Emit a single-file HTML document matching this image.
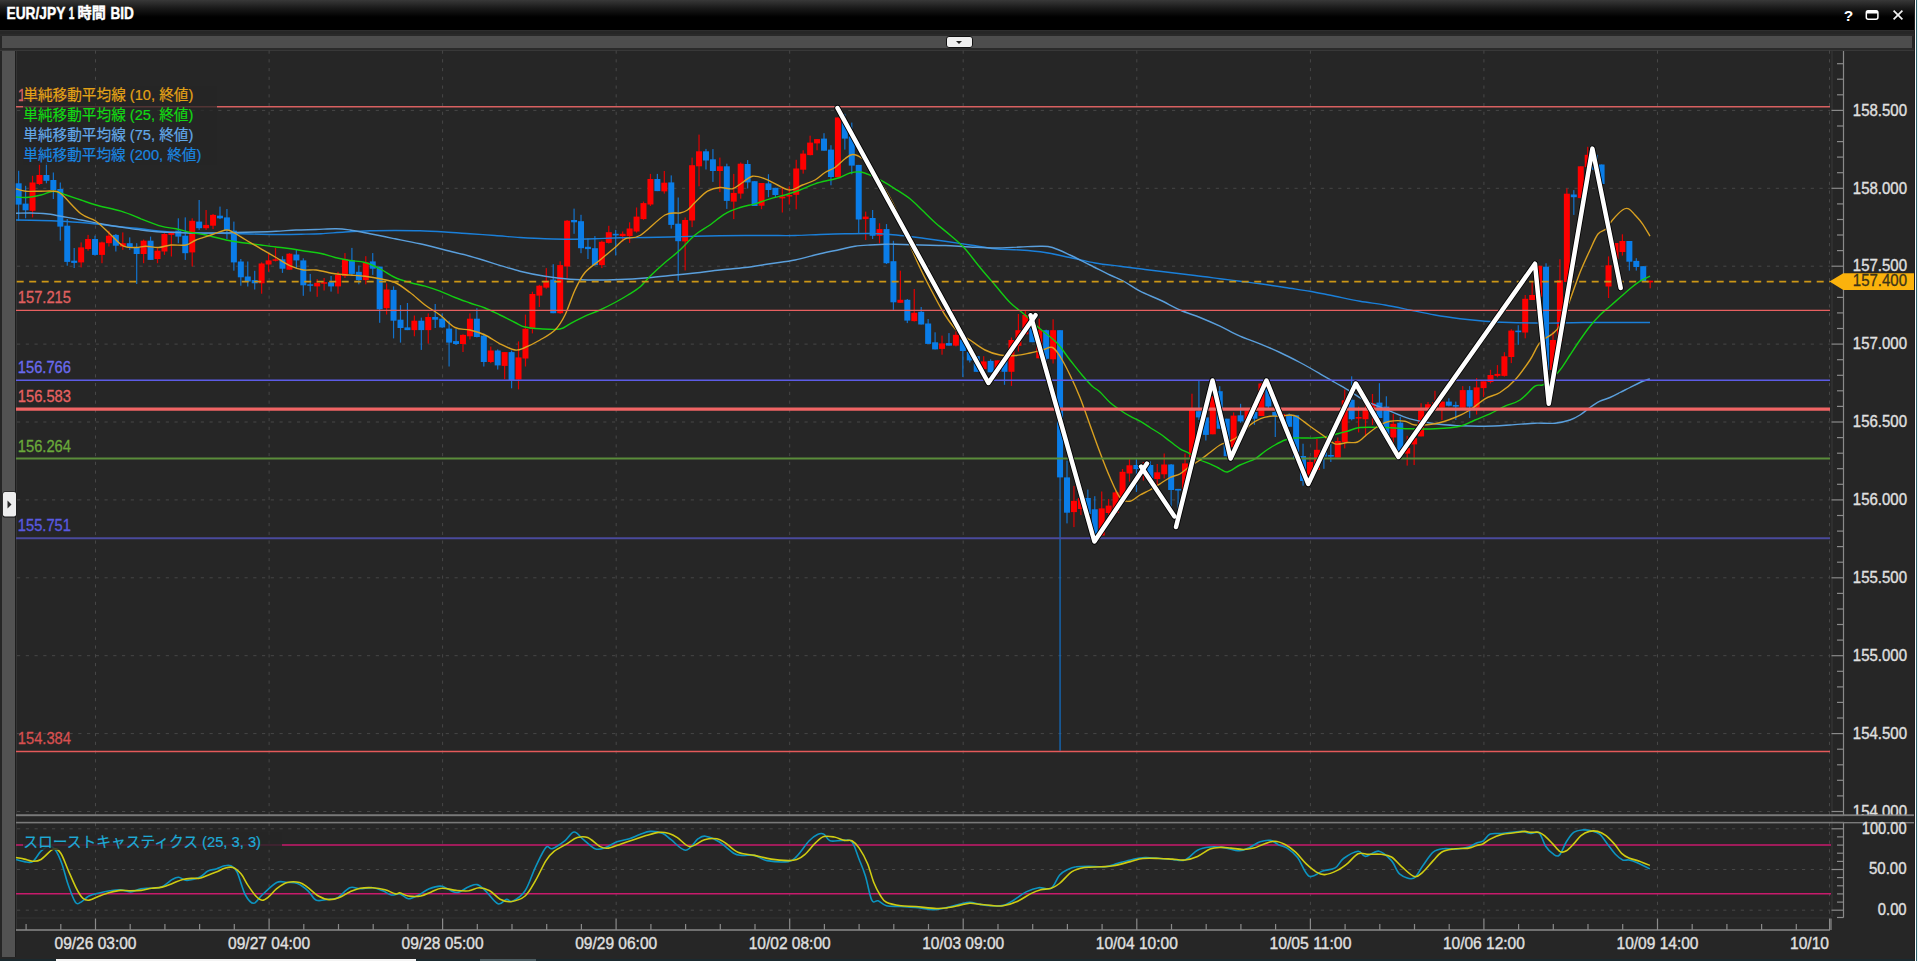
<!DOCTYPE html>
<html><head><meta charset="utf-8"><title>EUR/JPY 1時間 BID</title>
<style>
html,body{margin:0;padding:0;background:#262626;}
body{width:1918px;height:961px;overflow:hidden;position:relative;font-family:"Liberation Sans", "Noto Sans CJK JP", sans-serif;}
#title{position:absolute;left:0;top:0;width:1914px;height:30px;background:linear-gradient(#383838 0px,#1a1a1a 8px,#000 17px,#000 30px);}
#title .t{position:absolute;left:6px;top:4px;color:#fff;font-weight:bold;font-size:15px;line-height:18px;letter-spacing:-0.45px;}
#title .ic{position:absolute;top:8px;color:#fff;font-weight:bold;}
svg{position:absolute;left:0;top:0;}
svg text{font-family:"Liberation Sans", "Noto Sans CJK JP", sans-serif;}
#dd{position:absolute;left:946px;top:36px;width:25px;height:10px;background:#eee;border:1px solid #111;border-radius:3px;}
#dd:after{content:"";position:absolute;left:8.6px;top:4px;border-left:3.7px solid transparent;border-right:3.7px solid transparent;border-top:3.4px solid #222;}
</style></head>
<body>
<svg width="1918" height="961" viewBox="0 0 1918 961">
<rect x="0" y="30" width="1918" height="931" fill="#262626"/>
<rect x="0" y="30" width="1918" height="1" fill="#2e2e2e"/>
<rect x="0" y="34" width="1918" height="2" fill="#2a2a2a"/>
<rect x="2" y="36" width="1910" height="12" fill="#4d4d4d"/>
<rect x="0" y="48" width="1918" height="2" fill="#2a2a2a"/>
<rect x="0" y="50" width="1914" height="1" fill="#383838"/>
<rect x="2" y="51" width="13" height="906" fill="#525252"/>
<rect x="15" y="51" width="1" height="906" fill="#1e1e1e"/>
<rect x="16" y="51" width="1" height="880" fill="#333"/>
<rect x="2.5" y="491.5" width="14" height="26" rx="2" fill="#111"/>
<rect x="3" y="492" width="13" height="24.5" rx="2" fill="#eeeeee"/>
<path d="M7.5,500.5 L11.5,504.5 L7.5,508.5 Z" fill="#2a2a2a"/>
<g stroke="#474747" stroke-width="1" stroke-dasharray="3.2,5.55"><line x1="17" y1="110.4" x2="1830" y2="110.4"/><line x1="17" y1="188.3" x2="1830" y2="188.3"/><line x1="17" y1="266.2" x2="1830" y2="266.2"/><line x1="17" y1="344.1" x2="1830" y2="344.1"/><line x1="17" y1="422.0" x2="1830" y2="422.0"/><line x1="17" y1="499.9" x2="1830" y2="499.9"/><line x1="17" y1="577.8" x2="1830" y2="577.8"/><line x1="17" y1="655.7" x2="1830" y2="655.7"/><line x1="17" y1="733.6" x2="1830" y2="733.6"/><line x1="17" y1="811.5" x2="1830" y2="811.5"/><line x1="17" y1="828.8" x2="1830" y2="828.8"/><line x1="17" y1="869.5" x2="1830" y2="869.5"/><line x1="17" y1="910.2" x2="1830" y2="910.2"/></g>
<g stroke="#474747" stroke-width="1" stroke-dasharray="3.2,5.55"><line x1="95.5" y1="50.5" x2="95.5" y2="815"/><line x1="95.5" y1="823" x2="95.5" y2="918"/><line x1="269.1" y1="50.5" x2="269.1" y2="815"/><line x1="269.1" y1="823" x2="269.1" y2="918"/><line x1="442.6" y1="50.5" x2="442.6" y2="815"/><line x1="442.6" y1="823" x2="442.6" y2="918"/><line x1="616.2" y1="50.5" x2="616.2" y2="815"/><line x1="616.2" y1="823" x2="616.2" y2="918"/><line x1="789.7" y1="50.5" x2="789.7" y2="815"/><line x1="789.7" y1="823" x2="789.7" y2="918"/><line x1="963.2" y1="50.5" x2="963.2" y2="815"/><line x1="963.2" y1="823" x2="963.2" y2="918"/><line x1="1136.8" y1="50.5" x2="1136.8" y2="815"/><line x1="1136.8" y1="823" x2="1136.8" y2="918"/><line x1="1310.4" y1="50.5" x2="1310.4" y2="815"/><line x1="1310.4" y1="823" x2="1310.4" y2="918"/><line x1="1483.9" y1="50.5" x2="1483.9" y2="815"/><line x1="1483.9" y1="823" x2="1483.9" y2="918"/><line x1="1657.5" y1="50.5" x2="1657.5" y2="815"/><line x1="1657.5" y1="823" x2="1657.5" y2="918"/><line x1="1829.5" y1="50.5" x2="1829.5" y2="815"/><line x1="1829.5" y1="823" x2="1829.5" y2="918"/></g>
<rect x="1831.5" y="51" width="1" height="866" fill="#383838"/>
<rect x="18.05" y="170.8" width="1.2" height="50.0" fill="#1272cc"/><rect x="15.65" y="183.3" width="6.0" height="21.3" fill="#0a7de8"/><rect x="24.99" y="185.8" width="1.2" height="32.5" fill="#1272cc"/><rect x="22.59" y="203.6" width="6.0" height="6.7" fill="#0a7de8"/><rect x="31.94" y="175.8" width="1.2" height="41.6" fill="#e00000"/><rect x="29.54" y="182.5" width="6.0" height="28.3" fill="#ff0000"/><rect x="38.88" y="163.3" width="1.2" height="21.7" fill="#e00000"/><rect x="36.48" y="175.0" width="6.0" height="9.0" fill="#ff0000"/><rect x="45.82" y="162.5" width="1.2" height="20.8" fill="#1272cc"/><rect x="43.42" y="175.0" width="6.0" height="5.8" fill="#0a7de8"/><rect x="52.76" y="172.5" width="1.2" height="26.5" fill="#1272cc"/><rect x="50.36" y="180.0" width="6.0" height="10.0" fill="#0a7de8"/><rect x="59.71" y="182.5" width="1.2" height="58.2" fill="#1272cc"/><rect x="57.31" y="189.0" width="6.0" height="37.6" fill="#0a7de8"/><rect x="66.65" y="219.0" width="1.2" height="46.7" fill="#1272cc"/><rect x="64.25" y="225.7" width="6.0" height="36.2" fill="#0a7de8"/><rect x="73.59" y="248.0" width="1.2" height="20.0" fill="#1272cc"/><rect x="71.19" y="260.7" width="6.0" height="2.2" fill="#0a7de8"/><rect x="80.53" y="242.4" width="1.2" height="25.0" fill="#e00000"/><rect x="78.13" y="247.4" width="6.0" height="15.0" fill="#ff0000"/><rect x="87.48" y="234.9" width="1.2" height="15.8" fill="#e00000"/><rect x="85.08" y="239.0" width="6.0" height="10.0" fill="#ff0000"/><rect x="94.42" y="235.7" width="1.2" height="20.0" fill="#1272cc"/><rect x="92.02" y="239.0" width="6.0" height="15.9" fill="#0a7de8"/><rect x="101.36" y="241.6" width="1.2" height="21.6" fill="#e00000"/><rect x="98.96" y="242.4" width="6.0" height="12.5" fill="#ff0000"/><rect x="108.31" y="230.7" width="1.2" height="15.8" fill="#e00000"/><rect x="105.91" y="235.7" width="6.0" height="7.5" fill="#ff0000"/><rect x="115.25" y="234.0" width="1.2" height="17.5" fill="#1272cc"/><rect x="112.85" y="234.9" width="6.0" height="10.8" fill="#0a7de8"/><rect x="122.19" y="232.4" width="1.2" height="17.5" fill="#e00000"/><rect x="119.79" y="243.2" width="6.0" height="3.3" fill="#ff0000"/><rect x="129.13" y="237.4" width="1.2" height="12.5" fill="#1272cc"/><rect x="126.73" y="243.2" width="6.0" height="4.2" fill="#0a7de8"/><rect x="136.08" y="243.2" width="1.2" height="40.8" fill="#1272cc"/><rect x="133.68" y="247.4" width="6.0" height="6.6" fill="#0a7de8"/><rect x="143.02" y="239.6" width="1.2" height="23.6" fill="#e00000"/><rect x="140.62" y="240.7" width="6.0" height="13.3" fill="#ff0000"/><rect x="149.96" y="236.6" width="1.2" height="23.3" fill="#1272cc"/><rect x="147.56" y="240.7" width="6.0" height="19.2" fill="#0a7de8"/><rect x="156.90" y="248.2" width="1.2" height="15.0" fill="#e00000"/><rect x="154.50" y="250.7" width="6.0" height="8.3" fill="#ff0000"/><rect x="163.85" y="233.2" width="1.2" height="21.7" fill="#e00000"/><rect x="161.45" y="234.0" width="6.0" height="17.5" fill="#ff0000"/><rect x="170.79" y="231.6" width="1.2" height="24.9" fill="#e00000"/><rect x="168.39" y="231.6" width="6.0" height="3.3" fill="#ff0000"/><rect x="177.73" y="218.3" width="1.2" height="24.9" fill="#1272cc"/><rect x="175.33" y="230.7" width="6.0" height="5.9" fill="#0a7de8"/><rect x="184.67" y="217.4" width="1.2" height="42.5" fill="#1272cc"/><rect x="182.27" y="235.7" width="6.0" height="17.5" fill="#0a7de8"/><rect x="191.62" y="218.3" width="1.2" height="48.2" fill="#e00000"/><rect x="189.22" y="220.8" width="6.0" height="31.6" fill="#ff0000"/><rect x="198.56" y="200.0" width="1.2" height="29.9" fill="#1272cc"/><rect x="196.16" y="221.6" width="6.0" height="6.6" fill="#0a7de8"/><rect x="205.50" y="210.0" width="1.2" height="19.9" fill="#e00000"/><rect x="203.10" y="224.9" width="6.0" height="3.3" fill="#ff0000"/><rect x="212.45" y="214.0" width="1.2" height="15.1" fill="#e00000"/><rect x="210.05" y="214.9" width="6.0" height="10.8" fill="#ff0000"/><rect x="219.39" y="206.6" width="1.2" height="12.5" fill="#1272cc"/><rect x="216.99" y="215.7" width="6.0" height="2.6" fill="#0a7de8"/><rect x="226.33" y="209.0" width="1.2" height="30.0" fill="#1272cc"/><rect x="223.93" y="217.4" width="6.0" height="12.5" fill="#0a7de8"/><rect x="233.27" y="221.6" width="1.2" height="49.1" fill="#1272cc"/><rect x="230.87" y="230.7" width="6.0" height="31.7" fill="#0a7de8"/><rect x="240.22" y="259.0" width="1.2" height="26.7" fill="#1272cc"/><rect x="237.82" y="261.5" width="6.0" height="15.8" fill="#0a7de8"/><rect x="247.16" y="261.5" width="1.2" height="25.0" fill="#1272cc"/><rect x="244.76" y="276.5" width="6.0" height="5.0" fill="#0a7de8"/><rect x="254.10" y="270.8" width="1.2" height="18.7" fill="#1272cc"/><rect x="251.70" y="280.1" width="6.0" height="3.2" fill="#0a7de8"/><rect x="261.04" y="262.4" width="1.2" height="31.3" fill="#e00000"/><rect x="258.64" y="263.5" width="6.0" height="19.8" fill="#ff0000"/><rect x="267.99" y="253.1" width="1.2" height="18.7" fill="#e00000"/><rect x="265.59" y="260.4" width="6.0" height="4.1" fill="#ff0000"/><rect x="274.93" y="247.9" width="1.2" height="13.5" fill="#e00000"/><rect x="272.53" y="259.3" width="6.0" height="1.5" fill="#ff0000"/><rect x="281.87" y="256.2" width="1.2" height="16.7" fill="#1272cc"/><rect x="279.47" y="259.3" width="6.0" height="9.4" fill="#0a7de8"/><rect x="288.82" y="253.1" width="1.2" height="16.6" fill="#e00000"/><rect x="286.42" y="253.7" width="6.0" height="16.0" fill="#ff0000"/><rect x="295.76" y="250.0" width="1.2" height="18.7" fill="#1272cc"/><rect x="293.36" y="254.5" width="6.0" height="5.9" fill="#0a7de8"/><rect x="302.70" y="258.3" width="1.2" height="37.5" fill="#1272cc"/><rect x="300.30" y="260.4" width="6.0" height="24.9" fill="#0a7de8"/><rect x="309.64" y="273.9" width="1.2" height="17.7" fill="#1272cc"/><rect x="307.24" y="284.3" width="6.0" height="1.5" fill="#0a7de8"/><rect x="316.59" y="279.1" width="1.2" height="17.7" fill="#e00000"/><rect x="314.19" y="282.8" width="6.0" height="3.6" fill="#ff0000"/><rect x="323.53" y="278.0" width="1.2" height="12.5" fill="#e00000"/><rect x="321.13" y="282.2" width="6.0" height="1.5" fill="#ff0000"/><rect x="330.47" y="276.0" width="1.2" height="15.6" fill="#1272cc"/><rect x="328.07" y="282.2" width="6.0" height="4.2" fill="#0a7de8"/><rect x="337.41" y="271.8" width="1.2" height="21.9" fill="#e00000"/><rect x="335.01" y="274.9" width="6.0" height="11.5" fill="#ff0000"/><rect x="344.36" y="253.1" width="1.2" height="24.9" fill="#e00000"/><rect x="341.96" y="259.3" width="6.0" height="16.7" fill="#ff0000"/><rect x="351.30" y="247.9" width="1.2" height="28.1" fill="#1272cc"/><rect x="348.90" y="260.4" width="6.0" height="13.5" fill="#0a7de8"/><rect x="358.24" y="265.6" width="1.2" height="18.7" fill="#1272cc"/><rect x="355.84" y="271.8" width="6.0" height="8.3" fill="#0a7de8"/><rect x="365.18" y="256.2" width="1.2" height="28.1" fill="#e00000"/><rect x="362.78" y="262.4" width="6.0" height="17.7" fill="#ff0000"/><rect x="372.13" y="253.1" width="1.2" height="21.8" fill="#1272cc"/><rect x="369.73" y="261.4" width="6.0" height="7.3" fill="#0a7de8"/><rect x="379.07" y="266.6" width="1.2" height="56.2" fill="#1272cc"/><rect x="376.67" y="266.6" width="6.0" height="42.7" fill="#0a7de8"/><rect x="386.01" y="283.3" width="1.2" height="31.2" fill="#e00000"/><rect x="383.61" y="289.5" width="6.0" height="18.7" fill="#ff0000"/><rect x="392.96" y="286.4" width="1.2" height="52.0" fill="#1272cc"/><rect x="390.56" y="289.9" width="6.0" height="30.8" fill="#0a7de8"/><rect x="399.90" y="305.1" width="1.2" height="37.5" fill="#1272cc"/><rect x="397.50" y="319.7" width="6.0" height="8.3" fill="#0a7de8"/><rect x="406.84" y="303.0" width="1.2" height="27.1" fill="#1272cc"/><rect x="404.44" y="327.4" width="6.0" height="2.7" fill="#0a7de8"/><rect x="413.78" y="315.5" width="1.2" height="20.8" fill="#e00000"/><rect x="411.38" y="320.7" width="6.0" height="9.4" fill="#ff0000"/><rect x="420.73" y="317.6" width="1.2" height="32.3" fill="#1272cc"/><rect x="418.33" y="320.7" width="6.0" height="9.4" fill="#0a7de8"/><rect x="427.67" y="313.4" width="1.2" height="30.2" fill="#e00000"/><rect x="425.27" y="317.0" width="6.0" height="13.1" fill="#ff0000"/><rect x="434.61" y="304.0" width="1.2" height="24.0" fill="#1272cc"/><rect x="432.21" y="317.0" width="6.0" height="2.7" fill="#0a7de8"/><rect x="441.55" y="313.5" width="1.2" height="14.5" fill="#1272cc"/><rect x="439.15" y="318.7" width="6.0" height="8.7" fill="#0a7de8"/><rect x="448.50" y="320.7" width="1.2" height="45.8" fill="#1272cc"/><rect x="446.10" y="328.6" width="6.0" height="14.0" fill="#0a7de8"/><rect x="455.44" y="329.0" width="1.2" height="16.0" fill="#1272cc"/><rect x="453.04" y="341.1" width="6.0" height="2.9" fill="#0a7de8"/><rect x="462.38" y="334.3" width="1.2" height="17.7" fill="#e00000"/><rect x="459.98" y="334.9" width="6.0" height="9.1" fill="#ff0000"/><rect x="469.33" y="313.4" width="1.2" height="26.1" fill="#e00000"/><rect x="466.93" y="318.7" width="6.0" height="17.6" fill="#ff0000"/><rect x="476.27" y="308.2" width="1.2" height="29.2" fill="#1272cc"/><rect x="473.87" y="318.7" width="6.0" height="18.3" fill="#0a7de8"/><rect x="483.21" y="333.4" width="1.2" height="33.1" fill="#1272cc"/><rect x="480.81" y="335.6" width="6.0" height="26.4" fill="#0a7de8"/><rect x="490.15" y="346.6" width="1.2" height="16.5" fill="#e00000"/><rect x="487.75" y="350.5" width="6.0" height="11.5" fill="#ff0000"/><rect x="497.10" y="349.4" width="1.2" height="20.1" fill="#1272cc"/><rect x="494.70" y="350.5" width="6.0" height="14.9" fill="#0a7de8"/><rect x="504.04" y="352.1" width="1.2" height="27.0" fill="#e00000"/><rect x="501.64" y="352.1" width="6.0" height="13.8" fill="#ff0000"/><rect x="510.98" y="350.5" width="1.2" height="37.8" fill="#1272cc"/><rect x="508.58" y="352.1" width="6.0" height="28.2" fill="#0a7de8"/><rect x="517.92" y="341.4" width="1.2" height="48.0" fill="#e00000"/><rect x="515.52" y="357.4" width="6.0" height="22.2" fill="#ff0000"/><rect x="524.87" y="314.6" width="1.2" height="51.9" fill="#e00000"/><rect x="522.47" y="328.8" width="6.0" height="29.7" fill="#ff0000"/><rect x="531.81" y="291.7" width="1.2" height="41.7" fill="#e00000"/><rect x="529.41" y="294.0" width="6.0" height="34.8" fill="#ff0000"/><rect x="538.75" y="284.8" width="1.2" height="22.2" fill="#e00000"/><rect x="536.35" y="285.7" width="6.0" height="9.9" fill="#ff0000"/><rect x="545.70" y="268.1" width="1.2" height="20.6" fill="#e00000"/><rect x="543.30" y="280.7" width="6.0" height="6.9" fill="#ff0000"/><rect x="552.64" y="264.2" width="1.2" height="49.0" fill="#1272cc"/><rect x="550.24" y="279.6" width="6.0" height="33.6" fill="#0a7de8"/><rect x="559.58" y="261.3" width="1.2" height="52.6" fill="#e00000"/><rect x="557.18" y="265.1" width="6.0" height="48.1" fill="#ff0000"/><rect x="566.52" y="220.0" width="1.2" height="58.4" fill="#e00000"/><rect x="564.12" y="220.7" width="6.0" height="45.8" fill="#ff0000"/><rect x="573.47" y="208.6" width="1.2" height="25.2" fill="#1272cc"/><rect x="571.07" y="220.0" width="6.0" height="2.3" fill="#0a7de8"/><rect x="580.41" y="214.8" width="1.2" height="38.4" fill="#1272cc"/><rect x="578.01" y="221.2" width="6.0" height="27.0" fill="#0a7de8"/><rect x="587.35" y="238.4" width="1.2" height="20.6" fill="#1272cc"/><rect x="584.95" y="246.8" width="6.0" height="2.3" fill="#0a7de8"/><rect x="594.29" y="236.1" width="1.2" height="29.7" fill="#1272cc"/><rect x="591.89" y="248.2" width="6.0" height="16.9" fill="#0a7de8"/><rect x="601.24" y="240.7" width="1.2" height="27.4" fill="#e00000"/><rect x="598.84" y="241.8" width="6.0" height="23.3" fill="#ff0000"/><rect x="608.18" y="225.8" width="1.2" height="17.8" fill="#e00000"/><rect x="605.78" y="232.2" width="6.0" height="10.7" fill="#ff0000"/><rect x="615.12" y="229.9" width="1.2" height="25.6" fill="#1272cc"/><rect x="612.72" y="233.8" width="6.0" height="1.6" fill="#0a7de8"/><rect x="622.06" y="231.5" width="1.2" height="10.3" fill="#e00000"/><rect x="619.66" y="233.8" width="6.0" height="2.3" fill="#ff0000"/><rect x="629.01" y="222.3" width="1.2" height="20.6" fill="#e00000"/><rect x="626.61" y="228.5" width="6.0" height="7.6" fill="#ff0000"/><rect x="635.95" y="207.5" width="1.2" height="25.1" fill="#e00000"/><rect x="633.55" y="216.6" width="6.0" height="14.9" fill="#ff0000"/><rect x="642.89" y="201.6" width="1.2" height="18.2" fill="#e00000"/><rect x="640.49" y="203.1" width="6.0" height="16.0" fill="#ff0000"/><rect x="649.84" y="173.9" width="1.2" height="32.1" fill="#e00000"/><rect x="647.44" y="179.0" width="6.0" height="25.5" fill="#ff0000"/><rect x="656.78" y="173.9" width="1.2" height="17.2" fill="#1272cc"/><rect x="654.38" y="179.0" width="6.0" height="12.1" fill="#0a7de8"/><rect x="663.72" y="171.0" width="1.2" height="22.6" fill="#e00000"/><rect x="661.32" y="182.7" width="6.0" height="8.7" fill="#ff0000"/><rect x="670.66" y="175.4" width="1.2" height="53.2" fill="#1272cc"/><rect x="668.26" y="182.4" width="6.0" height="42.5" fill="#0a7de8"/><rect x="677.61" y="197.5" width="1.2" height="83.6" fill="#1272cc"/><rect x="675.21" y="223.7" width="6.0" height="17.5" fill="#0a7de8"/><rect x="684.55" y="217.5" width="1.2" height="53.0" fill="#e00000"/><rect x="682.15" y="220.0" width="6.0" height="21.4" fill="#ff0000"/><rect x="691.49" y="157.6" width="1.2" height="69.5" fill="#e00000"/><rect x="689.09" y="165.2" width="6.0" height="55.3" fill="#ff0000"/><rect x="698.43" y="134.6" width="1.2" height="51.7" fill="#e00000"/><rect x="696.03" y="151.3" width="6.0" height="15.0" fill="#ff0000"/><rect x="705.38" y="148.9" width="1.2" height="20.6" fill="#1272cc"/><rect x="702.98" y="151.3" width="6.0" height="9.2" fill="#0a7de8"/><rect x="712.32" y="149.1" width="1.2" height="32.8" fill="#1272cc"/><rect x="709.92" y="159.3" width="6.0" height="11.7" fill="#0a7de8"/><rect x="719.26" y="157.6" width="1.2" height="34.5" fill="#e00000"/><rect x="716.86" y="166.3" width="6.0" height="4.7" fill="#ff0000"/><rect x="726.21" y="163.7" width="1.2" height="45.2" fill="#1272cc"/><rect x="723.81" y="166.3" width="6.0" height="34.6" fill="#0a7de8"/><rect x="733.15" y="173.9" width="1.2" height="45.2" fill="#e00000"/><rect x="730.75" y="192.9" width="6.0" height="8.7" fill="#ff0000"/><rect x="740.09" y="162.5" width="1.2" height="36.2" fill="#e00000"/><rect x="737.69" y="163.7" width="6.0" height="29.9" fill="#ff0000"/><rect x="747.03" y="160.1" width="1.2" height="28.4" fill="#1272cc"/><rect x="744.63" y="164.0" width="6.0" height="18.4" fill="#0a7de8"/><rect x="753.98" y="181.2" width="1.2" height="24.8" fill="#1272cc"/><rect x="751.58" y="181.2" width="6.0" height="24.8" fill="#0a7de8"/><rect x="760.92" y="183.0" width="1.2" height="26.2" fill="#e00000"/><rect x="758.52" y="183.0" width="6.0" height="22.7" fill="#ff0000"/><rect x="767.86" y="174.2" width="1.2" height="23.0" fill="#1272cc"/><rect x="765.46" y="183.4" width="6.0" height="6.6" fill="#0a7de8"/><rect x="774.80" y="187.8" width="1.2" height="9.2" fill="#1272cc"/><rect x="772.40" y="187.8" width="6.0" height="7.2" fill="#0a7de8"/><rect x="781.75" y="187.8" width="1.2" height="24.7" fill="#e00000"/><rect x="779.35" y="196.5" width="6.0" height="1.9" fill="#ff0000"/><rect x="788.69" y="186.3" width="1.2" height="18.2" fill="#e00000"/><rect x="786.29" y="195.0" width="6.0" height="1.5" fill="#ff0000"/><rect x="795.63" y="159.8" width="1.2" height="49.5" fill="#e00000"/><rect x="793.23" y="168.5" width="6.0" height="26.3" fill="#ff0000"/><rect x="802.58" y="150.3" width="1.2" height="23.3" fill="#e00000"/><rect x="800.18" y="153.6" width="6.0" height="16.1" fill="#ff0000"/><rect x="809.52" y="135.7" width="1.2" height="19.7" fill="#e00000"/><rect x="807.12" y="142.6" width="6.0" height="12.5" fill="#ff0000"/><rect x="816.46" y="139.1" width="1.2" height="11.2" fill="#e00000"/><rect x="814.06" y="139.1" width="6.0" height="4.3" fill="#ff0000"/><rect x="823.40" y="133.2" width="1.2" height="17.5" fill="#1272cc"/><rect x="821.00" y="138.6" width="6.0" height="12.1" fill="#0a7de8"/><rect x="830.35" y="145.2" width="1.2" height="40.1" fill="#1272cc"/><rect x="827.95" y="149.6" width="6.0" height="27.4" fill="#0a7de8"/><rect x="837.29" y="117.5" width="1.2" height="59.8" fill="#e00000"/><rect x="834.89" y="117.5" width="6.0" height="59.8" fill="#ff0000"/><rect x="844.23" y="113.8" width="1.2" height="35.8" fill="#1272cc"/><rect x="841.83" y="121.9" width="6.0" height="16.7" fill="#0a7de8"/><rect x="851.17" y="122.6" width="1.2" height="51.7" fill="#1272cc"/><rect x="848.77" y="136.4" width="6.0" height="29.2" fill="#0a7de8"/><rect x="858.12" y="164.9" width="1.2" height="68.5" fill="#1272cc"/><rect x="855.72" y="164.9" width="6.0" height="54.6" fill="#0a7de8"/><rect x="865.06" y="211.6" width="1.2" height="28.4" fill="#e00000"/><rect x="862.66" y="216.6" width="6.0" height="2.5" fill="#ff0000"/><rect x="872.00" y="210.0" width="1.2" height="29.0" fill="#1272cc"/><rect x="869.60" y="218.0" width="6.0" height="17.8" fill="#0a7de8"/><rect x="878.94" y="223.3" width="1.2" height="20.0" fill="#e00000"/><rect x="876.54" y="229.1" width="6.0" height="6.7" fill="#ff0000"/><rect x="885.89" y="224.1" width="1.2" height="39.9" fill="#1272cc"/><rect x="883.49" y="229.1" width="6.0" height="34.1" fill="#0a7de8"/><rect x="892.83" y="240.8" width="1.2" height="69.0" fill="#1272cc"/><rect x="890.43" y="261.2" width="6.0" height="41.1" fill="#0a7de8"/><rect x="899.77" y="270.7" width="1.2" height="32.1" fill="#e00000"/><rect x="897.37" y="299.8" width="6.0" height="3.0" fill="#ff0000"/><rect x="906.72" y="299.0" width="1.2" height="24.1" fill="#1272cc"/><rect x="904.32" y="299.8" width="6.0" height="20.8" fill="#0a7de8"/><rect x="913.66" y="289.0" width="1.2" height="32.5" fill="#e00000"/><rect x="911.26" y="312.8" width="6.0" height="8.3" fill="#ff0000"/><rect x="920.60" y="307.0" width="1.2" height="17.5" fill="#1272cc"/><rect x="918.20" y="311.8" width="6.0" height="12.7" fill="#0a7de8"/><rect x="927.54" y="319.0" width="1.2" height="24.9" fill="#1272cc"/><rect x="925.14" y="323.5" width="6.0" height="20.4" fill="#0a7de8"/><rect x="934.49" y="332.3" width="1.2" height="17.1" fill="#1272cc"/><rect x="932.09" y="342.3" width="6.0" height="7.1" fill="#0a7de8"/><rect x="941.43" y="335.6" width="1.2" height="19.1" fill="#e00000"/><rect x="939.03" y="343.4" width="6.0" height="5.5" fill="#ff0000"/><rect x="948.37" y="333.1" width="1.2" height="12.5" fill="#1272cc"/><rect x="945.97" y="343.1" width="6.0" height="2.5" fill="#0a7de8"/><rect x="955.31" y="331.4" width="1.2" height="15.0" fill="#e00000"/><rect x="952.91" y="334.8" width="6.0" height="10.8" fill="#ff0000"/><rect x="962.26" y="339.5" width="1.2" height="37.5" fill="#1272cc"/><rect x="959.86" y="339.5" width="6.0" height="11.5" fill="#0a7de8"/><rect x="969.20" y="350.0" width="1.2" height="12.5" fill="#1272cc"/><rect x="966.80" y="352.0" width="6.0" height="8.4" fill="#0a7de8"/><rect x="976.14" y="356.2" width="1.2" height="15.6" fill="#1272cc"/><rect x="973.74" y="356.2" width="6.0" height="15.6" fill="#0a7de8"/><rect x="983.09" y="356.2" width="1.2" height="13.0" fill="#e00000"/><rect x="980.69" y="361.4" width="6.0" height="7.8" fill="#ff0000"/><rect x="990.03" y="359.3" width="1.2" height="13.0" fill="#1272cc"/><rect x="987.63" y="360.9" width="6.0" height="11.4" fill="#0a7de8"/><rect x="996.97" y="360.4" width="1.2" height="15.1" fill="#e00000"/><rect x="994.57" y="360.4" width="6.0" height="11.4" fill="#ff0000"/><rect x="1003.91" y="359.3" width="1.2" height="25.5" fill="#1272cc"/><rect x="1001.51" y="360.4" width="6.0" height="11.4" fill="#0a7de8"/><rect x="1010.86" y="337.5" width="1.2" height="48.4" fill="#e00000"/><rect x="1008.46" y="340.0" width="6.0" height="31.8" fill="#ff0000"/><rect x="1017.80" y="314.0" width="1.2" height="37.5" fill="#e00000"/><rect x="1015.40" y="330.2" width="6.0" height="15.6" fill="#ff0000"/><rect x="1024.74" y="310.4" width="1.2" height="23.9" fill="#e00000"/><rect x="1022.34" y="315.0" width="6.0" height="19.3" fill="#ff0000"/><rect x="1031.68" y="325.0" width="1.2" height="17.2" fill="#1272cc"/><rect x="1029.28" y="326.0" width="6.0" height="16.2" fill="#0a7de8"/><rect x="1038.63" y="318.7" width="1.2" height="39.6" fill="#e00000"/><rect x="1036.23" y="330.2" width="6.0" height="28.1" fill="#ff0000"/><rect x="1045.57" y="329.7" width="1.2" height="32.8" fill="#1272cc"/><rect x="1043.17" y="330.2" width="6.0" height="28.6" fill="#0a7de8"/><rect x="1052.51" y="319.3" width="1.2" height="44.2" fill="#e00000"/><rect x="1050.11" y="330.2" width="6.0" height="29.1" fill="#ff0000"/><rect x="1059.46" y="330.2" width="1.2" height="420.6" fill="#1272cc"/><rect x="1057.06" y="330.2" width="6.0" height="147.2" fill="#0a7de8"/><rect x="1066.40" y="460.6" width="1.2" height="62.8" fill="#1272cc"/><rect x="1064.00" y="477.4" width="6.0" height="35.3" fill="#0a7de8"/><rect x="1073.34" y="485.9" width="1.2" height="41.2" fill="#e00000"/><rect x="1070.94" y="500.9" width="6.0" height="11.2" fill="#ff0000"/><rect x="1080.28" y="490.0" width="1.2" height="25.0" fill="#e00000"/><rect x="1077.88" y="498.0" width="6.0" height="11.0" fill="#ff0000"/><rect x="1087.23" y="489.6" width="1.2" height="24.4" fill="#1272cc"/><rect x="1084.83" y="498.0" width="6.0" height="16.0" fill="#0a7de8"/><rect x="1094.17" y="496.2" width="1.2" height="39.3" fill="#1272cc"/><rect x="1091.77" y="509.3" width="6.0" height="26.2" fill="#0a7de8"/><rect x="1101.11" y="491.5" width="1.2" height="44.0" fill="#e00000"/><rect x="1098.71" y="508.4" width="6.0" height="27.1" fill="#ff0000"/><rect x="1108.05" y="499.0" width="1.2" height="16.0" fill="#e00000"/><rect x="1105.65" y="505.6" width="6.0" height="7.4" fill="#ff0000"/><rect x="1115.00" y="490.6" width="1.2" height="24.4" fill="#e00000"/><rect x="1112.60" y="492.4" width="6.0" height="20.6" fill="#ff0000"/><rect x="1121.94" y="469.0" width="1.2" height="28.1" fill="#e00000"/><rect x="1119.54" y="471.8" width="6.0" height="25.3" fill="#ff0000"/><rect x="1128.88" y="459.3" width="1.2" height="22.3" fill="#e00000"/><rect x="1126.48" y="465.3" width="6.0" height="8.2" fill="#ff0000"/><rect x="1135.82" y="459.3" width="1.2" height="32.7" fill="#1272cc"/><rect x="1133.42" y="465.0" width="6.0" height="4.1" fill="#0a7de8"/><rect x="1142.77" y="462.0" width="1.2" height="18.6" fill="#e00000"/><rect x="1140.37" y="466.0" width="6.0" height="5.0" fill="#ff0000"/><rect x="1149.71" y="461.3" width="1.2" height="24.5" fill="#1272cc"/><rect x="1147.31" y="465.0" width="6.0" height="13.5" fill="#0a7de8"/><rect x="1156.65" y="464.0" width="1.2" height="21.8" fill="#e00000"/><rect x="1154.25" y="472.3" width="6.0" height="6.7" fill="#ff0000"/><rect x="1163.60" y="453.5" width="1.2" height="25.0" fill="#e00000"/><rect x="1161.20" y="464.5" width="6.0" height="9.8" fill="#ff0000"/><rect x="1170.54" y="464.0" width="1.2" height="42.6" fill="#1272cc"/><rect x="1168.14" y="464.5" width="6.0" height="25.5" fill="#0a7de8"/><rect x="1177.48" y="488.9" width="1.2" height="21.9" fill="#1272cc"/><rect x="1175.08" y="488.9" width="6.0" height="1.6" fill="#0a7de8"/><rect x="1184.42" y="453.5" width="1.2" height="37.5" fill="#e00000"/><rect x="1182.02" y="463.4" width="6.0" height="27.6" fill="#ff0000"/><rect x="1191.37" y="393.7" width="1.2" height="63.7" fill="#e00000"/><rect x="1188.97" y="410.0" width="6.0" height="47.4" fill="#ff0000"/><rect x="1198.31" y="380.6" width="1.2" height="39.4" fill="#1272cc"/><rect x="1195.91" y="411.2" width="6.0" height="6.2" fill="#0a7de8"/><rect x="1205.25" y="417.4" width="1.2" height="23.1" fill="#1272cc"/><rect x="1202.85" y="417.4" width="6.0" height="17.5" fill="#0a7de8"/><rect x="1212.19" y="396.2" width="1.2" height="38.1" fill="#e00000"/><rect x="1209.79" y="396.2" width="6.0" height="38.1" fill="#ff0000"/><rect x="1219.14" y="386.2" width="1.2" height="42.5" fill="#1272cc"/><rect x="1216.74" y="391.2" width="6.0" height="37.5" fill="#0a7de8"/><rect x="1226.08" y="418.7" width="1.2" height="37.5" fill="#1272cc"/><rect x="1223.68" y="418.7" width="6.0" height="37.5" fill="#0a7de8"/><rect x="1233.02" y="412.4" width="1.2" height="35.0" fill="#e00000"/><rect x="1230.62" y="415.6" width="6.0" height="31.8" fill="#ff0000"/><rect x="1239.97" y="403.8" width="1.2" height="19.0" fill="#1272cc"/><rect x="1237.57" y="415.3" width="6.0" height="6.1" fill="#0a7de8"/><rect x="1246.91" y="408.0" width="1.2" height="14.0" fill="#e00000"/><rect x="1244.51" y="410.6" width="6.0" height="9.4" fill="#ff0000"/><rect x="1253.85" y="410.6" width="1.2" height="14.2" fill="#1272cc"/><rect x="1251.45" y="412.0" width="6.0" height="6.7" fill="#0a7de8"/><rect x="1260.79" y="383.5" width="1.2" height="32.5" fill="#e00000"/><rect x="1258.39" y="383.5" width="6.0" height="32.5" fill="#ff0000"/><rect x="1267.74" y="386.0" width="1.2" height="23.0" fill="#1272cc"/><rect x="1265.34" y="387.6" width="6.0" height="18.9" fill="#0a7de8"/><rect x="1274.68" y="410.6" width="1.2" height="26.4" fill="#1272cc"/><rect x="1272.28" y="412.0" width="6.0" height="4.0" fill="#0a7de8"/><rect x="1281.62" y="412.0" width="1.2" height="8.0" fill="#e00000"/><rect x="1279.22" y="414.0" width="6.0" height="3.0" fill="#ff0000"/><rect x="1288.56" y="413.3" width="1.2" height="13.5" fill="#1272cc"/><rect x="1286.16" y="414.7" width="6.0" height="12.1" fill="#0a7de8"/><rect x="1295.51" y="415.3" width="1.2" height="42.7" fill="#1272cc"/><rect x="1293.11" y="415.3" width="6.0" height="42.7" fill="#0a7de8"/><rect x="1302.45" y="443.7" width="1.2" height="42.0" fill="#1272cc"/><rect x="1300.05" y="456.0" width="6.0" height="25.0" fill="#0a7de8"/><rect x="1309.39" y="456.6" width="1.2" height="18.9" fill="#e00000"/><rect x="1306.99" y="462.0" width="6.0" height="13.5" fill="#ff0000"/><rect x="1316.33" y="439.0" width="1.2" height="31.0" fill="#e00000"/><rect x="1313.93" y="449.8" width="6.0" height="20.2" fill="#ff0000"/><rect x="1323.28" y="449.8" width="1.2" height="19.0" fill="#1272cc"/><rect x="1320.88" y="449.8" width="6.0" height="6.8" fill="#0a7de8"/><rect x="1330.22" y="443.7" width="1.2" height="18.3" fill="#1272cc"/><rect x="1327.82" y="455.0" width="6.0" height="1.6" fill="#0a7de8"/><rect x="1337.16" y="437.5" width="1.2" height="20.1" fill="#e00000"/><rect x="1334.76" y="441.0" width="6.0" height="16.6" fill="#ff0000"/><rect x="1344.11" y="389.5" width="1.2" height="58.9" fill="#e00000"/><rect x="1341.71" y="400.3" width="6.0" height="41.8" fill="#ff0000"/><rect x="1351.05" y="376.3" width="1.2" height="44.1" fill="#1272cc"/><rect x="1348.65" y="399.8" width="6.0" height="19.4" fill="#0a7de8"/><rect x="1357.99" y="406.6" width="1.2" height="25.8" fill="#e00000"/><rect x="1355.59" y="417.0" width="6.0" height="1.6" fill="#ff0000"/><rect x="1364.93" y="403.2" width="1.2" height="33.2" fill="#e00000"/><rect x="1362.53" y="408.9" width="6.0" height="10.3" fill="#ff0000"/><rect x="1371.88" y="394.0" width="1.2" height="31.0" fill="#e00000"/><rect x="1369.48" y="403.2" width="6.0" height="5.7" fill="#ff0000"/><rect x="1378.82" y="383.2" width="1.2" height="34.8" fill="#1272cc"/><rect x="1376.42" y="402.6" width="6.0" height="15.4" fill="#0a7de8"/><rect x="1385.76" y="396.3" width="1.2" height="41.2" fill="#1272cc"/><rect x="1383.36" y="406.6" width="6.0" height="30.9" fill="#0a7de8"/><rect x="1392.70" y="414.0" width="1.2" height="29.3" fill="#e00000"/><rect x="1390.30" y="423.8" width="6.0" height="13.7" fill="#ff0000"/><rect x="1399.65" y="416.9" width="1.2" height="37.8" fill="#1272cc"/><rect x="1397.25" y="422.7" width="6.0" height="32.0" fill="#0a7de8"/><rect x="1406.59" y="435.8" width="1.2" height="29.8" fill="#e00000"/><rect x="1404.19" y="447.8" width="6.0" height="5.8" fill="#ff0000"/><rect x="1413.53" y="434.1" width="1.2" height="30.9" fill="#e00000"/><rect x="1411.13" y="438.1" width="6.0" height="6.3" fill="#ff0000"/><rect x="1420.48" y="403.2" width="1.2" height="33.2" fill="#e00000"/><rect x="1418.08" y="410.6" width="6.0" height="25.8" fill="#ff0000"/><rect x="1427.42" y="402.0" width="1.2" height="9.8" fill="#e00000"/><rect x="1425.02" y="404.3" width="6.0" height="5.8" fill="#ff0000"/><rect x="1434.36" y="390.8" width="1.2" height="18.3" fill="#e00000"/><rect x="1431.96" y="402.3" width="6.0" height="6.8" fill="#ff0000"/><rect x="1441.30" y="401.6" width="1.2" height="18.4" fill="#e00000"/><rect x="1438.90" y="401.6" width="6.0" height="6.1" fill="#ff0000"/><rect x="1448.25" y="398.3" width="1.2" height="8.1" fill="#1272cc"/><rect x="1445.85" y="401.6" width="6.0" height="4.1" fill="#0a7de8"/><rect x="1455.19" y="401.6" width="1.2" height="18.4" fill="#1272cc"/><rect x="1452.79" y="405.0" width="6.0" height="1.6" fill="#0a7de8"/><rect x="1462.13" y="386.1" width="1.2" height="21.6" fill="#e00000"/><rect x="1459.73" y="390.1" width="6.0" height="17.6" fill="#ff0000"/><rect x="1469.07" y="386.1" width="1.2" height="31.8" fill="#1272cc"/><rect x="1466.67" y="390.1" width="6.0" height="16.5" fill="#0a7de8"/><rect x="1476.02" y="378.0" width="1.2" height="36.5" fill="#e00000"/><rect x="1473.62" y="387.4" width="6.0" height="20.3" fill="#ff0000"/><rect x="1482.96" y="381.3" width="1.2" height="15.6" fill="#e00000"/><rect x="1480.56" y="381.3" width="6.0" height="6.8" fill="#ff0000"/><rect x="1489.90" y="369.8" width="1.2" height="13.6" fill="#e00000"/><rect x="1487.50" y="375.0" width="6.0" height="7.0" fill="#ff0000"/><rect x="1496.85" y="365.1" width="1.2" height="12.2" fill="#e00000"/><rect x="1494.45" y="373.9" width="6.0" height="2.0" fill="#ff0000"/><rect x="1503.79" y="352.2" width="1.2" height="24.4" fill="#e00000"/><rect x="1501.39" y="356.3" width="6.0" height="19.6" fill="#ff0000"/><rect x="1510.73" y="329.2" width="1.2" height="33.9" fill="#e00000"/><rect x="1508.33" y="330.6" width="6.0" height="26.4" fill="#ff0000"/><rect x="1517.67" y="325.2" width="1.2" height="19.6" fill="#1272cc"/><rect x="1515.27" y="330.6" width="6.0" height="1.6" fill="#0a7de8"/><rect x="1524.62" y="295.0" width="1.2" height="43.3" fill="#e00000"/><rect x="1522.22" y="298.8" width="6.0" height="33.7" fill="#ff0000"/><rect x="1531.56" y="281.7" width="1.2" height="18.3" fill="#e00000"/><rect x="1529.16" y="295.0" width="6.0" height="5.0" fill="#ff0000"/><rect x="1538.50" y="265.8" width="1.2" height="30.9" fill="#e00000"/><rect x="1536.10" y="265.8" width="6.0" height="30.9" fill="#ff0000"/><rect x="1545.44" y="263.3" width="1.2" height="111.7" fill="#1272cc"/><rect x="1543.04" y="266.7" width="6.0" height="103.3" fill="#0a7de8"/><rect x="1552.39" y="331.7" width="1.2" height="48.3" fill="#e00000"/><rect x="1549.99" y="340.0" width="6.0" height="30.0" fill="#ff0000"/><rect x="1559.33" y="259.2" width="1.2" height="81.6" fill="#e00000"/><rect x="1556.93" y="280.3" width="6.0" height="60.5" fill="#ff0000"/><rect x="1566.27" y="188.4" width="1.2" height="93.6" fill="#e00000"/><rect x="1563.87" y="193.7" width="6.0" height="88.3" fill="#ff0000"/><rect x="1573.21" y="190.1" width="1.2" height="24.8" fill="#1272cc"/><rect x="1570.81" y="194.5" width="6.0" height="2.7" fill="#0a7de8"/><rect x="1580.16" y="166.3" width="1.2" height="31.8" fill="#e00000"/><rect x="1577.76" y="166.3" width="6.0" height="31.8" fill="#ff0000"/><rect x="1587.10" y="146.8" width="1.2" height="20.3" fill="#e00000"/><rect x="1584.70" y="154.8" width="6.0" height="12.3" fill="#ff0000"/><rect x="1594.04" y="150.0" width="1.2" height="22.0" fill="#1272cc"/><rect x="1591.64" y="154.8" width="6.0" height="15.0" fill="#0a7de8"/><rect x="1600.99" y="164.5" width="1.2" height="19.5" fill="#1272cc"/><rect x="1598.59" y="164.5" width="6.0" height="19.5" fill="#0a7de8"/><rect x="1607.93" y="256.4" width="1.2" height="41.6" fill="#e00000"/><rect x="1605.53" y="265.3" width="6.0" height="21.2" fill="#ff0000"/><rect x="1614.87" y="243.0" width="1.2" height="16.0" fill="#e00000"/><rect x="1612.47" y="243.0" width="6.0" height="16.0" fill="#ff0000"/><rect x="1621.81" y="234.3" width="1.2" height="21.3" fill="#e00000"/><rect x="1619.41" y="241.0" width="6.0" height="11.0" fill="#ff0000"/><rect x="1628.76" y="241.0" width="1.2" height="29.6" fill="#1272cc"/><rect x="1626.36" y="241.0" width="6.0" height="20.7" fill="#0a7de8"/><rect x="1635.70" y="258.2" width="1.2" height="12.4" fill="#1272cc"/><rect x="1633.30" y="260.9" width="6.0" height="6.1" fill="#0a7de8"/><rect x="1642.64" y="266.2" width="1.2" height="15.0" fill="#1272cc"/><rect x="1640.24" y="266.2" width="6.0" height="15.0" fill="#0a7de8"/><rect x="1649.58" y="280.7" width="1.2" height="7.6" fill="#e00000"/><rect x="1647.18" y="280.7" width="6.0" height="1.7" fill="#ff0000"/>
<path d="M16.0,220.0 C20.2,220.1 33.5,220.3 41.0,220.5 C48.5,220.7 54.3,220.9 61.0,221.2 C67.7,221.6 74.3,222.0 81.0,222.5 C87.7,223.0 94.3,223.8 101.0,224.5 C107.7,225.2 114.3,226.3 121.0,227.0 C127.7,227.7 134.3,228.0 141.0,228.8 C147.7,229.5 154.3,230.6 161.0,231.2 C167.7,231.9 174.3,232.2 181.0,232.5 C187.7,232.8 194.3,232.9 201.0,233.0 C207.7,233.1 214.3,233.1 221.0,233.2 C227.7,233.4 234.3,233.6 241.0,233.8 C247.7,233.9 254.3,234.1 261.0,234.2 C267.7,234.4 274.3,234.5 281.0,234.5 C287.7,234.5 294.3,234.4 301.0,234.2 C307.7,234.1 313.7,234.1 321.0,233.8 C328.3,233.4 336.8,232.5 345.0,232.0 C353.2,231.5 361.7,231.0 370.0,230.8 C378.3,230.5 386.7,230.5 395.0,230.5 C403.3,230.5 411.7,230.5 420.0,230.8 C428.3,231.0 436.7,231.5 445.0,232.0 C453.3,232.5 461.7,233.2 470.0,233.8 C478.3,234.3 486.7,234.9 495.0,235.5 C503.3,236.1 511.7,237.0 520.0,237.5 C528.3,238.0 536.7,238.5 545.0,238.8 C553.3,239.0 561.7,239.2 570.0,239.2 C578.3,239.2 586.7,239.0 595.0,238.8 C603.3,238.5 611.7,238.0 620.0,237.8 C628.3,237.6 636.7,237.6 645.0,237.5 C653.3,237.4 661.7,237.2 670.0,237.0 C678.3,236.8 686.7,236.5 695.0,236.2 C703.3,236.0 711.7,235.9 720.0,235.8 C728.3,235.6 736.7,235.5 745.0,235.5 C753.3,235.5 761.7,235.5 770.0,235.5 C778.3,235.5 786.7,235.7 795.0,235.5 C803.3,235.3 811.7,234.8 820.0,234.5 C828.3,234.2 836.7,233.9 845.0,233.8 C853.3,233.6 862.5,233.4 870.0,233.5 C877.5,233.6 883.8,234.0 890.0,234.5 C896.2,235.0 901.7,235.6 907.5,236.2 C913.3,236.9 918.8,237.7 925.0,238.5 C931.2,239.3 937.5,240.2 945.0,241.2 C952.5,242.3 961.7,243.8 970.0,245.0 C978.3,246.2 986.7,247.9 995.0,248.8 C1003.3,249.6 1011.7,249.4 1020.0,250.0 C1028.3,250.6 1036.7,251.2 1045.0,252.5 C1053.3,253.8 1061.7,255.8 1070.0,257.5 C1078.3,259.2 1086.7,261.5 1095.0,263.0 C1103.3,264.5 1111.7,265.2 1120.0,266.2 C1128.3,267.3 1136.7,268.5 1145.0,269.5 C1153.3,270.5 1161.7,271.5 1170.0,272.5 C1178.3,273.5 1186.7,274.5 1195.0,275.5 C1203.3,276.5 1212.5,277.8 1220.0,278.8 C1227.5,279.7 1233.3,280.4 1240.0,281.2 C1246.7,282.1 1252.5,282.7 1260.0,283.8 C1267.5,284.8 1276.7,286.2 1285.0,287.5 C1293.3,288.8 1301.7,289.8 1310.0,291.2 C1318.3,292.7 1326.7,294.6 1335.0,296.2 C1343.3,297.9 1351.7,299.8 1360.0,301.2 C1368.3,302.7 1376.7,303.5 1385.0,305.0 C1393.3,306.5 1401.7,308.3 1410.0,310.0 C1418.3,311.7 1426.7,313.5 1435.0,315.0 C1443.3,316.5 1451.7,317.7 1460.0,318.8 C1468.3,319.8 1476.7,320.6 1485.0,321.2 C1493.3,321.9 1501.7,322.2 1510.0,322.5 C1518.3,322.8 1526.7,322.9 1535.0,323.0 C1543.3,323.1 1551.7,323.1 1560.0,323.0 C1568.3,322.9 1576.7,322.6 1585.0,322.5 C1593.3,322.4 1601.7,322.5 1610.0,322.5 C1618.3,322.5 1628.3,322.5 1635.0,322.5 C1641.7,322.5 1647.5,322.5 1650.0,322.5" fill="none" stroke="#1a7fd9" stroke-width="1.4"/>
<path d="M16.0,213.2 C18.5,213.2 26.0,212.9 31.0,213.0 C36.0,213.1 41.0,213.2 46.0,213.8 C51.0,214.3 55.2,215.2 61.0,216.2 C66.8,217.3 74.3,218.8 81.0,220.0 C87.7,221.2 94.3,222.6 101.0,223.8 C107.7,224.9 114.3,226.0 121.0,227.0 C127.7,228.0 134.3,229.2 141.0,230.0 C147.7,230.8 155.2,231.6 161.0,232.0 C166.8,232.4 171.0,232.3 176.0,232.5 C181.0,232.7 184.3,232.9 191.0,233.0 C197.7,233.1 208.5,233.1 216.0,233.0 C223.5,232.9 229.3,232.7 236.0,232.5 C242.7,232.3 249.3,232.2 256.0,232.0 C262.7,231.8 269.3,231.6 276.0,231.2 C282.7,230.9 289.3,230.3 296.0,230.0 C302.7,229.7 309.3,229.7 316.0,229.5 C322.7,229.3 330.3,228.7 336.0,228.8 C341.7,228.8 344.3,229.2 350.0,230.0 C355.7,230.8 362.5,232.3 370.0,233.8 C377.5,235.2 386.7,237.1 395.0,238.8 C403.3,240.4 411.7,241.9 420.0,243.8 C428.3,245.6 436.7,247.9 445.0,250.0 C453.3,252.1 461.7,254.0 470.0,256.2 C478.3,258.5 486.7,261.2 495.0,263.8 C503.3,266.2 511.7,269.2 520.0,271.2 C528.3,273.3 536.7,274.9 545.0,276.2 C553.3,277.6 561.7,278.6 570.0,279.2 C578.3,279.9 586.7,280.0 595.0,280.0 C603.3,280.0 611.7,279.8 620.0,279.5 C628.3,279.2 636.7,278.7 645.0,278.0 C653.3,277.3 661.7,276.3 670.0,275.5 C678.3,274.7 686.7,273.9 695.0,273.0 C703.3,272.1 711.7,270.9 720.0,270.0 C728.3,269.1 736.7,268.5 745.0,267.5 C753.3,266.5 761.7,265.0 770.0,263.8 C778.3,262.5 786.7,261.7 795.0,260.0 C803.3,258.3 812.5,255.5 820.0,253.8 C827.5,252.0 834.2,250.8 840.0,249.5 C845.8,248.2 850.0,247.0 855.0,246.2 C860.0,245.5 865.0,245.3 870.0,245.0 C875.0,244.7 880.8,244.4 885.0,244.2 C889.2,244.1 889.2,244.1 895.0,244.2 C900.8,244.4 911.7,244.8 920.0,245.0 C928.3,245.2 936.7,245.2 945.0,245.5 C953.3,245.8 961.7,246.6 970.0,247.0 C978.3,247.4 986.7,248.0 995.0,248.0 C1003.3,248.0 1012.5,247.3 1020.0,247.0 C1027.5,246.7 1034.6,246.2 1040.0,246.2 C1045.4,246.3 1047.5,246.0 1052.5,247.5 C1057.5,249.0 1063.8,252.1 1070.0,255.0 C1076.2,257.9 1083.3,261.7 1090.0,265.0 C1096.7,268.3 1104.2,272.2 1110.0,275.0 C1115.8,277.8 1120.0,279.3 1125.0,282.0 C1130.0,284.7 1134.2,288.2 1140.0,291.2 C1145.8,294.2 1153.3,296.9 1160.0,300.0 C1166.7,303.1 1173.3,307.1 1180.0,310.0 C1186.7,312.9 1193.3,314.8 1200.0,317.5 C1206.7,320.2 1213.3,323.1 1220.0,326.2 C1226.7,329.4 1233.3,333.3 1240.0,336.2 C1246.7,339.2 1253.3,341.0 1260.0,343.8 C1266.7,346.5 1273.3,349.4 1280.0,352.5 C1286.7,355.6 1293.3,359.0 1300.0,362.5 C1306.7,366.0 1314.2,370.4 1320.0,373.8 C1325.8,377.1 1330.0,379.6 1335.0,382.5 C1340.0,385.4 1345.5,388.5 1350.0,391.2 C1354.5,394.0 1357.8,396.7 1362.0,399.0 C1366.2,401.3 1370.3,403.0 1375.0,405.0 C1379.7,407.0 1384.2,409.0 1390.0,411.2 C1395.8,413.5 1402.5,416.7 1410.0,418.8 C1417.5,420.8 1426.7,422.6 1435.0,423.8 C1443.3,424.9 1451.7,425.3 1460.0,425.8 C1468.3,426.2 1476.7,426.4 1485.0,426.2 C1493.3,426.1 1501.7,425.5 1510.0,425.0 C1518.3,424.5 1527.5,423.5 1535.0,423.2 C1542.5,423.0 1549.2,423.8 1555.0,423.2 C1560.8,422.7 1565.8,421.4 1570.0,420.0 C1574.2,418.6 1576.7,417.1 1580.0,415.0 C1583.3,412.9 1586.7,409.8 1590.0,407.5 C1593.3,405.2 1596.7,402.9 1600.0,401.2 C1603.3,399.6 1606.7,399.0 1610.0,397.5 C1613.3,396.0 1616.7,394.2 1620.0,392.5 C1623.3,390.8 1626.7,389.2 1630.0,387.5 C1633.3,385.8 1636.7,384.0 1640.0,382.5 C1643.3,381.0 1648.3,379.4 1650.0,378.8" fill="none" stroke="#5a9fdc" stroke-width="1.4"/>
<path d="M16.0,197.0 C17.7,197.1 21.8,197.8 26.0,197.5 C30.2,197.2 36.4,196.0 41.0,195.0 C45.6,194.0 49.3,191.2 53.5,191.2 C57.7,191.2 61.4,193.5 66.0,195.0 C70.6,196.5 76.0,198.3 81.0,200.0 C86.0,201.7 89.3,203.1 96.0,205.0 C102.7,206.9 113.5,209.0 121.0,211.2 C128.5,213.5 134.3,216.2 141.0,218.8 C147.7,221.2 155.2,224.6 161.0,226.2 C166.8,227.9 171.0,227.7 176.0,228.8 C181.0,229.8 186.0,231.5 191.0,232.5 C196.0,233.5 200.2,233.8 206.0,235.0 C211.8,236.2 220.2,238.8 226.0,240.0 C231.8,241.2 235.2,241.7 241.0,242.5 C246.8,243.3 255.2,244.2 261.0,245.0 C266.8,245.8 271.0,246.4 276.0,247.0 C281.0,247.6 286.0,248.0 291.0,248.8 C296.0,249.5 301.0,250.5 306.0,251.2 C311.0,252.0 316.2,252.5 321.0,253.5 C325.8,254.5 330.2,256.3 335.0,257.5 C339.8,258.7 345.0,259.7 350.0,260.5 C355.0,261.3 360.0,261.1 365.0,262.5 C370.0,263.9 375.0,266.2 380.0,268.8 C385.0,271.2 390.0,275.2 395.0,277.5 C400.0,279.8 405.0,281.0 410.0,282.5 C415.0,284.0 420.0,284.8 425.0,286.2 C430.0,287.7 435.0,289.4 440.0,291.2 C445.0,293.1 450.0,295.5 455.0,297.5 C460.0,299.5 465.0,301.2 470.0,303.0 C475.0,304.8 480.0,306.0 485.0,308.0 C490.0,310.0 495.0,312.6 500.0,315.0 C505.0,317.4 510.8,320.5 515.0,322.5 C519.2,324.5 520.8,326.0 525.0,327.0 C529.2,328.0 534.2,328.4 540.0,328.8 C545.8,329.1 555.0,329.8 560.0,329.0 C565.0,328.2 565.8,325.9 570.0,323.8 C574.2,321.6 580.0,318.5 585.0,316.2 C590.0,314.0 595.0,312.3 600.0,310.0 C605.0,307.7 610.3,305.0 615.0,302.5 C619.7,300.0 623.8,297.6 628.0,295.0 C632.2,292.4 636.3,290.1 640.0,287.0 C643.7,283.9 645.8,280.3 650.0,276.2 C654.2,272.2 660.0,266.9 665.0,262.5 C670.0,258.1 675.0,254.6 680.0,250.0 C685.0,245.4 690.0,239.2 695.0,235.0 C700.0,230.8 705.0,228.5 710.0,225.0 C715.0,221.5 720.0,216.7 725.0,213.8 C730.0,210.8 735.0,209.2 740.0,207.5 C745.0,205.8 750.0,205.2 755.0,203.8 C760.0,202.3 765.0,200.2 770.0,198.8 C775.0,197.3 780.0,196.5 785.0,195.0 C790.0,193.5 795.0,191.9 800.0,190.0 C805.0,188.1 810.0,185.4 815.0,183.8 C820.0,182.1 825.8,181.0 830.0,180.0 C834.2,179.0 836.7,178.7 840.0,177.5 C843.3,176.3 846.7,173.9 850.0,173.0 C853.3,172.1 856.7,171.7 860.0,172.0 C863.3,172.3 866.2,173.5 870.0,175.0 C873.8,176.5 878.3,179.0 882.5,181.2 C886.7,183.5 890.4,185.8 895.0,188.8 C899.6,191.7 905.5,195.2 910.0,198.8 C914.5,202.3 917.8,206.0 922.0,210.0 C926.2,214.0 930.3,218.3 935.0,222.5 C939.7,226.7 945.0,230.6 950.0,235.0 C955.0,239.4 960.0,243.3 965.0,248.8 C970.0,254.2 975.0,261.5 980.0,267.5 C985.0,273.5 990.0,279.2 995.0,285.0 C1000.0,290.8 1005.0,297.5 1010.0,302.5 C1015.0,307.5 1020.0,310.6 1025.0,315.0 C1030.0,319.4 1034.7,324.1 1040.0,328.8 C1045.3,333.4 1052.0,337.8 1057.0,343.0 C1062.0,348.2 1065.8,354.7 1070.0,360.0 C1074.2,365.3 1078.3,370.7 1082.0,375.0 C1085.7,379.3 1089.0,383.2 1092.0,386.0 C1095.0,388.8 1097.0,389.2 1100.0,392.0 C1103.0,394.8 1106.7,399.5 1110.0,402.5 C1113.3,405.5 1116.7,407.7 1120.0,410.0 C1123.3,412.3 1126.7,414.4 1130.0,416.2 C1133.3,418.1 1136.7,419.4 1140.0,421.2 C1143.3,423.1 1146.7,425.4 1150.0,427.5 C1153.3,429.6 1156.7,431.5 1160.0,433.8 C1163.3,436.0 1166.7,438.8 1170.0,441.2 C1173.3,443.8 1176.7,446.7 1180.0,448.8 C1183.3,450.8 1186.7,451.9 1190.0,453.8 C1193.3,455.6 1196.7,458.3 1200.0,460.0 C1203.3,461.7 1206.7,462.3 1210.0,463.8 C1213.3,465.2 1217.1,467.4 1220.0,468.8 C1222.9,470.1 1224.2,472.6 1227.5,472.0 C1230.8,471.4 1235.4,467.2 1240.0,465.0 C1244.6,462.8 1250.8,461.0 1255.0,458.8 C1259.2,456.5 1261.7,453.5 1265.0,451.2 C1268.3,449.0 1271.7,446.9 1275.0,445.0 C1278.3,443.1 1281.7,441.2 1285.0,440.0 C1288.3,438.8 1291.7,438.3 1295.0,438.0 C1298.3,437.7 1301.7,438.0 1305.0,438.0 C1308.3,438.0 1311.7,438.2 1315.0,438.0 C1318.3,437.8 1321.7,437.6 1325.0,437.0 C1328.3,436.4 1331.2,435.5 1335.0,434.5 C1338.8,433.5 1343.3,432.4 1347.5,431.2 C1351.7,430.1 1353.8,428.1 1360.0,427.5 C1366.2,426.9 1376.7,427.3 1385.0,427.5 C1393.3,427.7 1401.7,428.5 1410.0,428.8 C1418.3,429.0 1426.7,429.2 1435.0,428.8 C1443.3,428.3 1453.3,427.7 1460.0,426.2 C1466.7,424.8 1470.0,422.1 1475.0,420.0 C1480.0,417.9 1485.0,416.0 1490.0,413.8 C1495.0,411.5 1500.0,408.5 1505.0,406.2 C1510.0,404.0 1515.0,403.3 1520.0,400.0 C1525.0,396.7 1531.2,388.8 1535.0,386.2 C1538.8,383.8 1540.0,386.0 1542.5,385.0 C1545.0,384.0 1547.1,382.5 1550.0,380.0 C1552.9,377.5 1556.7,374.2 1560.0,370.0 C1563.3,365.8 1566.7,360.0 1570.0,355.0 C1573.3,350.0 1576.7,344.8 1580.0,340.0 C1583.3,335.2 1586.7,330.4 1590.0,326.2 C1593.3,322.1 1596.7,318.3 1600.0,315.0 C1603.3,311.7 1606.7,309.2 1610.0,306.2 C1613.3,303.3 1616.7,300.4 1620.0,297.5 C1623.3,294.6 1626.7,291.5 1630.0,288.8 C1633.3,286.0 1636.7,283.3 1640.0,281.2 C1643.3,279.2 1648.3,277.1 1650.0,276.2" fill="none" stroke="#12cc12" stroke-width="1.4"/>
<path d="M16.0,188.8 C17.7,189.2 21.8,190.8 26.0,191.2 C30.2,191.7 36.4,191.2 41.0,191.2 C45.6,191.2 50.2,190.8 53.5,191.2 C56.8,191.7 56.4,190.0 61.0,193.8 C65.6,197.5 75.2,209.2 81.0,213.8 C86.8,218.3 91.0,217.7 96.0,221.2 C101.0,224.8 106.4,230.8 111.0,235.0 C115.6,239.2 119.3,244.2 123.5,246.2 C127.7,248.3 132.2,247.5 136.0,247.5 C139.8,247.5 142.2,246.2 146.0,246.2 C149.8,246.2 154.3,247.7 158.5,247.5 C162.7,247.3 166.4,245.4 171.0,245.0 C175.6,244.6 181.8,245.8 186.0,245.0 C190.2,244.2 191.8,241.7 196.0,240.0 C200.2,238.3 206.0,236.7 211.0,235.0 C216.0,233.3 222.2,230.4 226.0,230.0 C229.8,229.6 230.2,230.8 233.5,232.5 C236.8,234.2 241.4,237.3 246.0,240.0 C250.6,242.7 256.0,245.8 261.0,248.8 C266.0,251.7 271.0,254.6 276.0,257.5 C281.0,260.4 286.4,264.2 291.0,266.2 C295.6,268.3 299.3,269.4 303.5,270.0 C307.7,270.6 310.8,269.4 316.0,270.0 C321.2,270.6 329.3,272.9 335.0,273.8 C340.7,274.6 345.0,274.6 350.0,275.0 C355.0,275.4 360.0,275.6 365.0,276.2 C370.0,276.9 375.0,277.7 380.0,278.8 C385.0,279.8 390.0,280.2 395.0,282.5 C400.0,284.8 405.0,288.8 410.0,292.5 C415.0,296.2 420.0,301.2 425.0,305.0 C430.0,308.8 435.0,311.2 440.0,315.0 C445.0,318.8 450.0,325.0 455.0,327.5 C460.0,330.0 465.0,328.8 470.0,330.0 C475.0,331.2 480.0,332.7 485.0,335.0 C490.0,337.3 495.0,341.2 500.0,343.8 C505.0,346.2 510.8,349.4 515.0,350.0 C519.2,350.6 520.8,349.2 525.0,347.5 C529.2,345.8 535.0,342.9 540.0,340.0 C545.0,337.1 550.8,334.2 555.0,330.0 C559.2,325.8 561.7,321.7 565.0,315.0 C568.3,308.3 571.7,297.1 575.0,290.0 C578.3,282.9 580.8,277.5 585.0,272.5 C589.2,267.5 595.0,264.2 600.0,260.0 C605.0,255.8 610.8,251.0 615.0,247.5 C619.2,244.0 620.8,240.8 625.0,238.8 C629.2,236.8 633.3,239.5 640.0,235.5 C646.7,231.5 658.3,218.8 665.0,215.0 C671.7,211.2 676.2,213.8 680.0,213.0 C683.8,212.2 685.0,211.8 687.5,210.0 C690.0,208.2 691.7,205.6 695.0,202.5 C698.3,199.4 703.3,193.8 707.5,191.2 C711.7,188.8 715.8,187.9 720.0,187.5 C724.2,187.1 728.8,189.6 732.5,188.8 C736.2,187.9 739.2,184.6 742.5,182.5 C745.8,180.4 748.8,176.9 752.5,176.2 C756.2,175.6 760.8,177.3 765.0,178.8 C769.2,180.2 773.3,183.1 777.5,185.0 C781.7,186.9 785.8,190.0 790.0,190.0 C794.2,190.0 798.3,186.7 802.5,185.0 C806.7,183.3 811.2,182.1 815.0,180.0 C818.8,177.9 821.7,174.6 825.0,172.5 C828.3,170.4 831.7,169.8 835.0,167.5 C838.3,165.2 842.1,160.9 845.0,158.8 C847.9,156.6 849.6,154.5 852.5,154.5 C855.4,154.5 859.2,156.2 862.5,158.8 C865.8,161.3 869.2,165.6 872.5,170.0 C875.8,174.4 878.8,178.8 882.5,185.0 C886.2,191.2 890.4,197.5 895.0,207.5 C899.6,217.5 905.5,234.2 910.0,245.0 C914.5,255.8 918.2,264.1 922.0,272.0 C925.8,279.9 928.7,285.3 932.5,292.5 C936.3,299.7 940.8,308.5 945.0,315.0 C949.2,321.5 953.3,327.1 957.5,331.2 C961.7,335.4 965.4,336.9 970.0,340.0 C974.6,343.1 980.0,347.5 985.0,350.0 C990.0,352.5 995.0,354.1 1000.0,355.0 C1005.0,355.9 1010.0,355.8 1015.0,355.5 C1020.0,355.2 1025.4,353.9 1030.0,353.0 C1034.6,352.1 1038.8,350.9 1042.5,350.0 C1046.2,349.1 1049.4,346.2 1052.5,347.5 C1055.6,348.8 1058.1,353.4 1061.0,358.0 C1063.9,362.6 1066.8,368.4 1070.0,375.0 C1073.2,381.6 1076.7,389.2 1080.0,397.5 C1083.3,405.8 1086.7,415.8 1090.0,425.0 C1093.3,434.2 1096.7,443.8 1100.0,452.5 C1103.3,461.2 1106.7,470.0 1110.0,477.5 C1113.3,485.0 1116.7,493.5 1120.0,497.5 C1123.3,501.5 1126.7,501.7 1130.0,501.2 C1133.3,500.8 1136.7,496.9 1140.0,495.0 C1143.3,493.1 1146.7,491.9 1150.0,490.0 C1153.3,488.1 1156.7,485.8 1160.0,483.8 C1163.3,481.7 1166.7,479.2 1170.0,477.5 C1173.3,475.8 1176.7,475.6 1180.0,473.8 C1183.3,471.9 1186.7,468.5 1190.0,466.2 C1193.3,464.0 1196.7,462.3 1200.0,460.0 C1203.3,457.7 1206.7,455.0 1210.0,452.5 C1213.3,450.0 1216.7,446.9 1220.0,445.0 C1223.3,443.1 1226.7,442.9 1230.0,441.2 C1233.3,439.6 1236.7,437.7 1240.0,435.0 C1243.3,432.3 1246.7,427.7 1250.0,425.0 C1253.3,422.3 1256.7,420.2 1260.0,418.8 C1263.3,417.3 1266.7,416.7 1270.0,416.2 C1273.3,415.8 1276.7,416.5 1280.0,416.2 C1283.3,416.0 1287.1,414.9 1290.0,415.0 C1292.9,415.1 1294.2,415.1 1297.5,417.0 C1300.8,418.9 1305.8,423.2 1310.0,426.2 C1314.2,429.2 1318.3,432.1 1322.5,435.0 C1326.7,437.9 1330.8,442.5 1335.0,443.8 C1339.2,445.0 1343.8,442.8 1347.5,442.5 C1351.2,442.2 1354.2,443.4 1357.5,442.0 C1360.8,440.6 1363.8,436.8 1367.5,434.0 C1371.2,431.2 1376.2,427.1 1380.0,425.0 C1383.8,422.9 1385.8,421.9 1390.0,421.2 C1394.2,420.6 1400.8,420.6 1405.0,421.2 C1409.2,421.9 1410.0,424.6 1415.0,425.0 C1420.0,425.4 1428.3,425.0 1435.0,423.8 C1441.7,422.5 1449.2,419.8 1455.0,417.5 C1460.8,415.2 1465.0,413.1 1470.0,410.0 C1475.0,406.9 1480.0,401.7 1485.0,398.8 C1490.0,395.8 1495.0,395.6 1500.0,392.5 C1505.0,389.4 1510.0,385.4 1515.0,380.0 C1520.0,374.6 1525.8,366.2 1530.0,360.0 C1534.2,353.8 1536.2,346.9 1540.0,342.5 C1543.8,338.1 1549.2,336.7 1552.5,333.8 C1555.8,330.8 1557.1,330.6 1560.0,325.0 C1562.9,319.4 1566.7,308.8 1570.0,300.0 C1573.3,291.2 1576.7,280.8 1580.0,272.5 C1583.3,264.2 1587.0,256.4 1590.0,250.0 C1593.0,243.6 1595.3,237.5 1598.0,234.0 C1600.7,230.5 1603.6,231.3 1606.0,229.0 C1608.4,226.7 1609.8,223.2 1612.5,220.0 C1615.2,216.8 1619.8,211.9 1622.5,210.0 C1625.2,208.1 1626.7,207.9 1628.8,208.8 C1630.8,209.6 1632.7,212.5 1635.0,215.0 C1637.3,217.5 1640.0,220.2 1642.5,223.8 C1645.0,227.3 1648.8,234.2 1650.0,236.2" fill="none" stroke="#d9a020" stroke-width="1.4"/>
<line x1="16" y1="106.8" x2="1830" y2="106.8" stroke="#d86060" stroke-width="1.5"/>
<line x1="16" y1="310.4" x2="1830" y2="310.4" stroke="#e86060" stroke-width="1.4"/>
<line x1="16" y1="380.3" x2="1830" y2="380.3" stroke="#5c5ce6" stroke-width="1.4"/>
<line x1="16" y1="409.1" x2="1830" y2="409.1" stroke="#f06464" stroke-width="3.4"/>
<line x1="16" y1="458.6" x2="1830" y2="458.6" stroke="#5a8c3a" stroke-width="2.0"/>
<line x1="16" y1="538.3" x2="1830" y2="538.3" stroke="#4a4a9c" stroke-width="2.0"/>
<line x1="16" y1="751.5" x2="1830" y2="751.5" stroke="#e45a5a" stroke-width="1.5"/>
<line x1="16.7" y1="281.6" x2="1830" y2="281.6" stroke="#cc9616" stroke-width="1.8" stroke-dasharray="7,5.5"/>
<polyline points="837.5,108 988.4,383 1035.5,315.2" fill="none" stroke="#000" stroke-width="6.2" stroke-linejoin="round" stroke-linecap="round"/>
<polyline points="1030.6,315.2 1094.4,541.5 1147,463.5" fill="none" stroke="#000" stroke-width="6.2" stroke-linejoin="round" stroke-linecap="round"/>
<polyline points="1141,466.5 1174.5,516.5" fill="none" stroke="#000" stroke-width="6.2" stroke-linejoin="round" stroke-linecap="round"/>
<polyline points="1176,527 1212.5,380.5 1230.6,458.5 1266.5,380.5 1308.2,484 1355.8,383.5 1398.5,457 1535,263.75 1548.75,403.75 1592.4,148.6 1620.7,288" fill="none" stroke="#000" stroke-width="6.2" stroke-linejoin="round" stroke-linecap="round"/>
<polyline points="837.5,108 988.4,383 1035.5,315.2" fill="none" stroke="#fff" stroke-width="4.5" stroke-linejoin="round" stroke-linecap="round"/>
<polyline points="1030.6,315.2 1094.4,541.5 1147,463.5" fill="none" stroke="#fff" stroke-width="4.5" stroke-linejoin="round" stroke-linecap="round"/>
<polyline points="1141,466.5 1174.5,516.5" fill="none" stroke="#fff" stroke-width="4.5" stroke-linejoin="round" stroke-linecap="round"/>
<polyline points="1176,527 1212.5,380.5 1230.6,458.5 1266.5,380.5 1308.2,484 1355.8,383.5 1398.5,457 1535,263.75 1548.75,403.75 1592.4,148.6 1620.7,288" fill="none" stroke="#fff" stroke-width="4.5" stroke-linejoin="round" stroke-linecap="round"/>
<text x="17.8" y="302.90000000000003" fill="#e06060" stroke="#e06060" stroke-width="0.3" font-size="16.5" textLength="53.2" lengthAdjust="spacingAndGlyphs">157.215</text>
<text x="17.8" y="372.6" fill="#6b6bef" stroke="#6b6bef" stroke-width="0.3" font-size="16.5" textLength="53.2" lengthAdjust="spacingAndGlyphs">156.766</text>
<text x="17.8" y="401.6" fill="#e86262" stroke="#e86262" stroke-width="0.3" font-size="16.5" textLength="53.2" lengthAdjust="spacingAndGlyphs">156.583</text>
<text x="17.8" y="451.6" fill="#6aaa3a" stroke="#6aaa3a" stroke-width="0.3" font-size="16.5" textLength="53.2" lengthAdjust="spacingAndGlyphs">156.264</text>
<text x="17.8" y="531.4" fill="#5a5ae0" stroke="#5a5ae0" stroke-width="0.3" font-size="16.5" textLength="53.2" lengthAdjust="spacingAndGlyphs">155.751</text>
<text x="17.8" y="744.1" fill="#d85050" stroke="#d85050" stroke-width="0.3" font-size="16.5" textLength="53.2" lengthAdjust="spacingAndGlyphs">154.384</text>
<text x="17.8" y="100.89999999999999" fill="#d86060" stroke="#d86060" stroke-width="0.3" font-size="16.5" textLength="53.2" lengthAdjust="spacingAndGlyphs">158.514</text>
<rect x="23" y="86" width="194" height="79" fill="#262626" fill-opacity="0.75"/>
<text x="23.3" y="100.3" fill="#e3a216" stroke="#e3a216" stroke-width="0.2" font-size="15" textLength="170" lengthAdjust="spacingAndGlyphs">単純移動平均線 (10, 終値)</text>
<text x="23.3" y="120.3" fill="#13d813" stroke="#13d813" stroke-width="0.2" font-size="15" textLength="170" lengthAdjust="spacingAndGlyphs">単純移動平均線 (25, 終値)</text>
<text x="23.3" y="140.3" fill="#62a8e8" stroke="#62a8e8" stroke-width="0.2" font-size="15" textLength="170" lengthAdjust="spacingAndGlyphs">単純移動平均線 (75, 終値)</text>
<text x="23.3" y="160.3" fill="#1a86e0" stroke="#1a86e0" stroke-width="0.2" font-size="15" textLength="178" lengthAdjust="spacingAndGlyphs">単純移動平均線 (200, 終値)</text>
<rect x="16" y="814.5" width="1898" height="1.6" fill="#7a7a7a"/>
<rect x="16" y="821.8" width="1898" height="1.6" fill="#7a7a7a"/>
<line x1="1843.5" y1="51" x2="1843.5" y2="815" stroke="#8a8a8a" stroke-width="1.2"/><line x1="1837" y1="63.7" x2="1843.5" y2="63.7" stroke="#8a8a8a" stroke-width="1.2"/><line x1="1837" y1="79.2" x2="1843.5" y2="79.2" stroke="#8a8a8a" stroke-width="1.2"/><line x1="1837" y1="94.8" x2="1843.5" y2="94.8" stroke="#8a8a8a" stroke-width="1.2"/><line x1="1831.5" y1="110.4" x2="1843.5" y2="110.4" stroke="#8a8a8a" stroke-width="1.2"/><line x1="1837" y1="126.0" x2="1843.5" y2="126.0" stroke="#8a8a8a" stroke-width="1.2"/><line x1="1837" y1="141.6" x2="1843.5" y2="141.6" stroke="#8a8a8a" stroke-width="1.2"/><line x1="1837" y1="157.1" x2="1843.5" y2="157.1" stroke="#8a8a8a" stroke-width="1.2"/><line x1="1837" y1="172.7" x2="1843.5" y2="172.7" stroke="#8a8a8a" stroke-width="1.2"/><line x1="1831.5" y1="188.3" x2="1843.5" y2="188.3" stroke="#8a8a8a" stroke-width="1.2"/><line x1="1837" y1="203.9" x2="1843.5" y2="203.9" stroke="#8a8a8a" stroke-width="1.2"/><line x1="1837" y1="219.5" x2="1843.5" y2="219.5" stroke="#8a8a8a" stroke-width="1.2"/><line x1="1837" y1="235.0" x2="1843.5" y2="235.0" stroke="#8a8a8a" stroke-width="1.2"/><line x1="1837" y1="250.6" x2="1843.5" y2="250.6" stroke="#8a8a8a" stroke-width="1.2"/><line x1="1831.5" y1="266.2" x2="1843.5" y2="266.2" stroke="#8a8a8a" stroke-width="1.2"/><line x1="1837" y1="281.8" x2="1843.5" y2="281.8" stroke="#8a8a8a" stroke-width="1.2"/><line x1="1837" y1="297.4" x2="1843.5" y2="297.4" stroke="#8a8a8a" stroke-width="1.2"/><line x1="1837" y1="312.9" x2="1843.5" y2="312.9" stroke="#8a8a8a" stroke-width="1.2"/><line x1="1837" y1="328.5" x2="1843.5" y2="328.5" stroke="#8a8a8a" stroke-width="1.2"/><line x1="1831.5" y1="344.1" x2="1843.5" y2="344.1" stroke="#8a8a8a" stroke-width="1.2"/><line x1="1837" y1="359.7" x2="1843.5" y2="359.7" stroke="#8a8a8a" stroke-width="1.2"/><line x1="1837" y1="375.3" x2="1843.5" y2="375.3" stroke="#8a8a8a" stroke-width="1.2"/><line x1="1837" y1="390.8" x2="1843.5" y2="390.8" stroke="#8a8a8a" stroke-width="1.2"/><line x1="1837" y1="406.4" x2="1843.5" y2="406.4" stroke="#8a8a8a" stroke-width="1.2"/><line x1="1831.5" y1="422.0" x2="1843.5" y2="422.0" stroke="#8a8a8a" stroke-width="1.2"/><line x1="1837" y1="437.6" x2="1843.5" y2="437.6" stroke="#8a8a8a" stroke-width="1.2"/><line x1="1837" y1="453.2" x2="1843.5" y2="453.2" stroke="#8a8a8a" stroke-width="1.2"/><line x1="1837" y1="468.7" x2="1843.5" y2="468.7" stroke="#8a8a8a" stroke-width="1.2"/><line x1="1837" y1="484.3" x2="1843.5" y2="484.3" stroke="#8a8a8a" stroke-width="1.2"/><line x1="1831.5" y1="499.9" x2="1843.5" y2="499.9" stroke="#8a8a8a" stroke-width="1.2"/><line x1="1837" y1="515.5" x2="1843.5" y2="515.5" stroke="#8a8a8a" stroke-width="1.2"/><line x1="1837" y1="531.1" x2="1843.5" y2="531.1" stroke="#8a8a8a" stroke-width="1.2"/><line x1="1837" y1="546.6" x2="1843.5" y2="546.6" stroke="#8a8a8a" stroke-width="1.2"/><line x1="1837" y1="562.2" x2="1843.5" y2="562.2" stroke="#8a8a8a" stroke-width="1.2"/><line x1="1831.5" y1="577.8" x2="1843.5" y2="577.8" stroke="#8a8a8a" stroke-width="1.2"/><line x1="1837" y1="593.4" x2="1843.5" y2="593.4" stroke="#8a8a8a" stroke-width="1.2"/><line x1="1837" y1="609.0" x2="1843.5" y2="609.0" stroke="#8a8a8a" stroke-width="1.2"/><line x1="1837" y1="624.5" x2="1843.5" y2="624.5" stroke="#8a8a8a" stroke-width="1.2"/><line x1="1837" y1="640.1" x2="1843.5" y2="640.1" stroke="#8a8a8a" stroke-width="1.2"/><line x1="1831.5" y1="655.7" x2="1843.5" y2="655.7" stroke="#8a8a8a" stroke-width="1.2"/><line x1="1837" y1="671.3" x2="1843.5" y2="671.3" stroke="#8a8a8a" stroke-width="1.2"/><line x1="1837" y1="686.9" x2="1843.5" y2="686.9" stroke="#8a8a8a" stroke-width="1.2"/><line x1="1837" y1="702.4" x2="1843.5" y2="702.4" stroke="#8a8a8a" stroke-width="1.2"/><line x1="1837" y1="718.0" x2="1843.5" y2="718.0" stroke="#8a8a8a" stroke-width="1.2"/><line x1="1831.5" y1="733.6" x2="1843.5" y2="733.6" stroke="#8a8a8a" stroke-width="1.2"/><line x1="1837" y1="749.2" x2="1843.5" y2="749.2" stroke="#8a8a8a" stroke-width="1.2"/><line x1="1837" y1="764.8" x2="1843.5" y2="764.8" stroke="#8a8a8a" stroke-width="1.2"/><line x1="1837" y1="780.3" x2="1843.5" y2="780.3" stroke="#8a8a8a" stroke-width="1.2"/><line x1="1837" y1="795.9" x2="1843.5" y2="795.9" stroke="#8a8a8a" stroke-width="1.2"/><line x1="1831.5" y1="811.5" x2="1843.5" y2="811.5" stroke="#8a8a8a" stroke-width="1.2"/>
<text x="1852.8" y="115.6" fill="#e0e0e0" stroke="#e0e0e0" stroke-width="0.35" font-size="16.5" textLength="54.2" lengthAdjust="spacingAndGlyphs">158.500</text>
<text x="1852.8" y="193.5" fill="#e0e0e0" stroke="#e0e0e0" stroke-width="0.35" font-size="16.5" textLength="54.2" lengthAdjust="spacingAndGlyphs">158.000</text>
<text x="1852.8" y="271.4" fill="#e0e0e0" stroke="#e0e0e0" stroke-width="0.35" font-size="16.5" textLength="54.2" lengthAdjust="spacingAndGlyphs">157.500</text>
<text x="1852.8" y="349.3" fill="#e0e0e0" stroke="#e0e0e0" stroke-width="0.35" font-size="16.5" textLength="54.2" lengthAdjust="spacingAndGlyphs">157.000</text>
<text x="1852.8" y="427.2" fill="#e0e0e0" stroke="#e0e0e0" stroke-width="0.35" font-size="16.5" textLength="54.2" lengthAdjust="spacingAndGlyphs">156.500</text>
<text x="1852.8" y="505.1" fill="#e0e0e0" stroke="#e0e0e0" stroke-width="0.35" font-size="16.5" textLength="54.2" lengthAdjust="spacingAndGlyphs">156.000</text>
<text x="1852.8" y="583.0" fill="#e0e0e0" stroke="#e0e0e0" stroke-width="0.35" font-size="16.5" textLength="54.2" lengthAdjust="spacingAndGlyphs">155.500</text>
<text x="1852.8" y="660.9" fill="#e0e0e0" stroke="#e0e0e0" stroke-width="0.35" font-size="16.5" textLength="54.2" lengthAdjust="spacingAndGlyphs">155.000</text>
<text x="1852.8" y="738.8" fill="#e0e0e0" stroke="#e0e0e0" stroke-width="0.35" font-size="16.5" textLength="54.2" lengthAdjust="spacingAndGlyphs">154.500</text>
<text x="1852.8" y="816.7" fill="#e0e0e0" stroke="#e0e0e0" stroke-width="0.35" font-size="16.5" textLength="54.2" lengthAdjust="spacingAndGlyphs">154.000</text>
<rect x="1844" y="816" width="70" height="6" fill="#262626"/>
<rect x="16" y="814.5" width="1898" height="1.6" fill="#7a7a7a"/>
<path d="M1829.5,281.5 L1843.3,273.2 L1914,273.2 L1914,290 L1843.3,290 Z" fill="#fbb20c"/>
<text x="1852.8" y="286.2" fill="#3a3318" stroke="#3a3318" stroke-width="0.3" font-size="16.5" textLength="54.2" lengthAdjust="spacingAndGlyphs">157.400</text>
<line x1="16" y1="845" x2="1831" y2="845" stroke="#c81a6c" stroke-width="1.6"/>
<line x1="16" y1="893.7" x2="1831" y2="893.7" stroke="#c81a6c" stroke-width="1.6"/>
<path d="M16.0,859.5 C17.4,859.9 21.5,861.2 24.3,861.6 C27.1,862.0 29.9,863.3 32.7,861.6 C35.5,859.9 38.2,853.8 41.0,851.2 C43.8,848.6 47.0,846.2 49.4,846.0 C51.8,845.8 53.5,847.2 55.6,850.2 C57.7,853.2 59.8,858.0 61.9,863.7 C64.0,869.4 65.8,878.2 68.1,884.6 C70.3,891.0 73.3,899.3 75.4,902.3 C77.5,905.2 78.4,903.3 80.7,902.3 C83.0,901.2 85.9,897.6 89.0,896.0 C92.1,894.4 95.9,893.8 99.4,892.9 C102.9,892.0 106.3,891.3 109.8,890.8 C113.3,890.3 116.8,889.6 120.3,889.8 C123.8,890.0 127.2,892.1 130.7,891.9 C134.2,891.7 137.6,889.3 141.1,888.7 C144.6,888.1 148.1,888.6 151.6,888.3 C155.1,888.0 158.5,888.2 162.0,886.7 C165.5,885.2 169.6,881.0 172.4,879.4 C175.2,877.8 176.3,877.1 178.7,877.3 C181.1,877.5 183.5,880.4 187.0,880.4 C190.5,880.4 196.0,878.9 199.5,877.3 C203.0,875.7 205.1,872.4 207.9,871.0 C210.7,869.6 213.4,869.8 216.2,868.9 C219.0,868.0 222.2,866.3 224.6,865.8 C227.0,865.3 228.7,864.8 230.8,865.8 C232.9,866.8 234.7,867.2 237.1,872.1 C239.5,877.0 242.6,889.8 245.4,895.0 C248.2,900.2 250.9,903.3 253.7,903.3 C256.5,903.3 258.3,898.5 262.1,895.0 C265.9,891.5 272.5,884.6 276.7,882.5 C280.9,880.4 283.6,882.3 287.1,882.5 C290.6,882.7 294.0,882.1 297.5,883.5 C301.0,884.9 304.9,888.0 308.0,890.8 C311.1,893.6 312.8,898.8 316.3,900.2 C319.8,901.6 325.3,899.6 328.8,899.2 C332.3,898.9 333.7,900.0 337.2,898.1 C340.7,896.2 345.9,889.3 349.7,887.7 C353.5,886.1 356.3,888.7 360.1,888.7 C363.9,888.7 368.8,887.4 372.6,887.7 C376.4,888.1 379.9,889.6 383.0,890.8 C386.1,892.0 388.6,894.5 391.4,895.0 C394.2,895.5 397.2,893.3 400.0,893.9 C402.8,894.5 405.2,898.5 408.3,898.7 C411.4,898.9 415.3,896.7 418.8,895.0 C422.3,893.3 425.4,890.2 429.2,888.7 C433.0,887.2 437.2,885.6 441.7,886.2 C446.2,886.8 451.8,892.4 456.3,892.5 C460.8,892.6 465.3,888.0 468.8,886.7 C472.3,885.4 474.4,883.9 477.2,884.6 C480.0,885.3 482.0,887.6 485.5,890.8 C489.0,894.0 494.5,902.4 498.0,903.8 C501.5,905.2 504.0,899.6 506.4,899.2 C508.8,898.8 509.5,902.6 512.6,901.2 C515.7,899.8 521.3,896.5 525.1,890.8 C528.9,885.1 532.1,874.0 535.6,866.8 C539.1,859.6 543.2,850.4 546.0,847.4 C548.8,844.4 549.1,849.8 552.2,848.7 C555.3,847.6 561.1,843.6 564.8,840.8 C568.4,838.0 571.0,832.2 574.1,832.0 C577.2,831.8 580.0,836.9 583.5,839.7 C587.0,842.5 591.5,847.3 595.0,848.7 C598.5,850.1 600.8,849.2 604.4,848.1 C608.0,847.0 612.7,843.4 616.9,841.8 C621.1,840.2 625.6,839.9 629.4,838.7 C633.2,837.5 636.3,835.7 639.8,834.5 C643.3,833.3 646.5,831.6 650.3,831.4 C654.1,831.2 659.3,832.1 662.8,833.5 C666.3,834.9 667.3,836.9 671.1,839.7 C674.9,842.5 681.2,850.4 685.7,850.2 C690.2,850.0 694.9,841.0 698.2,838.7 C701.5,836.4 702.0,835.7 705.5,836.2 C709.0,836.7 714.4,838.9 719.1,841.8 C723.8,844.6 729.9,851.0 733.7,853.3 C737.5,855.6 738.5,855.0 742.0,855.4 C745.5,855.8 750.3,854.5 754.5,855.4 C758.7,856.3 761.4,859.6 767.0,860.6 C772.6,861.6 783.3,862.3 788.3,861.6 C793.2,860.9 793.2,859.9 796.7,856.4 C800.2,852.9 805.7,844.4 809.2,840.8 C812.7,837.1 815.1,835.6 817.5,834.5 C819.9,833.4 821.7,833.1 823.8,834.1 C825.9,835.1 827.0,839.8 830.1,840.8 C833.2,841.8 839.0,840.2 842.6,840.4 C846.2,840.6 849.1,838.6 851.9,841.8 C854.7,845.0 856.9,853.8 859.2,859.5 C861.5,865.2 863.4,869.4 865.5,876.2 C867.6,883.0 869.7,896.1 871.8,900.2 C873.9,904.3 875.6,899.9 878.0,900.8 C880.4,901.7 882.6,904.8 886.4,905.8 C890.2,906.8 896.1,906.2 901.0,906.5 C905.9,906.8 910.1,907.0 915.6,907.5 C921.1,908.0 929.1,909.6 934.3,909.6 C939.5,909.6 942.6,908.4 946.8,907.5 C951.0,906.6 955.6,905.3 959.4,904.4 C963.2,903.5 966.3,902.3 969.8,902.3 C973.3,902.3 976.7,903.8 980.2,904.4 C983.7,905.0 986.8,905.6 990.6,905.8 C994.4,906.0 999.3,906.3 1003.1,905.4 C1006.9,904.5 1009.8,902.5 1013.6,900.2 C1017.4,898.0 1021.9,894.0 1026.1,891.9 C1030.3,889.8 1034.4,888.3 1038.6,887.7 C1042.8,887.1 1047.6,890.4 1051.1,888.3 C1054.6,886.2 1056.7,878.3 1059.5,875.2 C1062.3,872.1 1065.0,870.9 1067.8,869.5 C1070.6,868.1 1072.6,867.3 1076.1,866.8 C1079.6,866.2 1083.8,866.2 1088.7,866.2 C1093.6,866.2 1100.4,867.3 1105.3,866.8 C1110.2,866.3 1113.4,864.5 1117.9,863.3 C1122.4,862.1 1128.0,860.5 1132.5,859.5 C1137.0,858.5 1140.4,857.7 1145.0,857.5 C1149.6,857.3 1155.4,858.2 1160.0,858.5 C1164.6,858.8 1168.3,859.2 1172.5,859.5 C1176.7,859.8 1180.8,861.5 1185.0,860.0 C1189.2,858.5 1193.3,852.4 1197.5,850.2 C1201.7,848.0 1205.9,847.5 1210.1,847.0 C1214.3,846.5 1217.8,846.8 1222.6,847.4 C1227.4,848.0 1234.7,850.8 1239.2,850.8 C1243.7,850.8 1246.2,848.9 1249.7,847.4 C1253.2,845.9 1256.6,843.0 1260.1,841.8 C1263.6,840.6 1267.4,839.9 1270.5,840.4 C1273.6,840.9 1276.1,843.6 1278.9,844.9 C1281.7,846.2 1284.1,846.0 1287.2,848.1 C1290.3,850.2 1293.9,852.8 1297.6,857.5 C1301.2,862.2 1304.9,874.0 1309.1,876.2 C1313.3,878.5 1318.3,872.4 1322.7,871.0 C1327.1,869.6 1331.7,870.0 1335.2,867.9 C1338.7,865.8 1339.7,861.3 1343.5,858.5 C1347.3,855.7 1354.4,851.6 1358.1,851.2 C1361.8,850.9 1361.9,856.4 1365.4,856.4 C1368.9,856.4 1374.7,850.5 1379.0,851.2 C1383.3,851.9 1388.0,856.8 1391.5,860.6 C1395.0,864.4 1396.1,871.2 1399.8,874.1 C1403.5,877.0 1409.6,879.7 1413.4,878.3 C1417.2,876.9 1419.5,870.1 1422.8,865.8 C1426.1,861.4 1429.7,855.1 1433.2,852.2 C1436.7,849.4 1439.8,849.2 1443.6,848.7 C1447.4,848.2 1451.9,849.4 1456.1,849.1 C1460.3,848.8 1465.3,848.0 1468.7,847.0 C1472.1,846.0 1474.3,843.9 1476.7,842.9 C1479.1,841.9 1480.7,842.7 1482.9,841.2 C1485.2,839.7 1487.1,835.4 1490.2,834.1 C1493.3,832.8 1497.7,833.9 1501.7,833.5 C1505.7,833.1 1510.7,832.4 1514.2,832.0 C1517.7,831.6 1519.8,831.1 1522.6,831.4 C1525.4,831.6 1528.1,833.3 1530.9,833.5 C1533.7,833.7 1536.8,830.7 1539.2,832.8 C1541.6,834.9 1543.2,842.5 1545.5,846.0 C1547.8,849.5 1550.5,852.1 1552.8,853.7 C1555.1,855.3 1556.8,857.4 1559.1,855.4 C1561.4,853.4 1564.0,845.6 1566.4,841.8 C1568.8,838.0 1570.9,834.4 1573.7,832.4 C1576.5,830.4 1580.0,830.2 1583.0,829.9 C1586.0,829.6 1588.6,830.1 1591.4,830.8 C1594.2,831.5 1596.9,831.8 1599.7,834.1 C1602.5,836.5 1605.5,841.5 1608.1,844.9 C1610.7,848.3 1613.0,851.8 1615.4,854.3 C1617.8,856.8 1620.5,859.0 1622.7,860.0 C1625.0,861.0 1626.5,859.5 1628.9,860.0 C1631.3,860.5 1634.9,861.7 1637.3,862.7 C1639.7,863.7 1641.4,864.8 1643.5,865.8 C1645.6,866.8 1648.8,868.4 1649.8,868.9" fill="none" stroke="#0c94c0" stroke-width="1.6"/>
<path d="M16.0,857.5 C17.4,857.8 21.5,858.5 24.3,859.1 C27.1,859.7 29.9,861.1 32.7,861.2 C35.5,861.3 37.5,861.5 41.0,859.5 C44.5,857.5 50.2,850.1 53.5,849.1 C56.8,848.1 58.4,849.8 60.8,853.3 C63.2,856.8 65.5,864.1 68.1,870.0 C70.7,875.9 74.1,884.0 76.5,888.7 C78.9,893.4 80.6,896.2 82.7,898.1 C84.8,900.0 86.2,900.6 89.0,900.2 C91.8,899.9 95.9,897.3 99.4,896.0 C102.9,894.7 106.3,893.4 109.8,892.5 C113.3,891.6 116.8,890.7 120.3,890.4 C123.8,890.1 127.2,890.8 130.7,890.8 C134.2,890.8 137.6,890.8 141.1,890.4 C144.6,890.0 148.1,888.8 151.6,888.3 C155.1,887.8 158.5,887.9 162.0,887.1 C165.5,886.3 168.9,884.8 172.4,883.5 C175.9,882.2 179.3,880.3 182.8,879.4 C186.3,878.5 190.5,878.5 193.3,878.3 C196.1,878.1 197.1,878.8 199.5,878.3 C201.9,877.8 205.1,876.2 207.9,875.2 C210.7,874.2 213.4,873.2 216.2,872.1 C219.0,871.0 221.8,869.1 224.6,868.3 C227.4,867.5 230.1,866.5 232.9,867.5 C235.7,868.5 238.8,871.2 241.2,874.1 C243.6,877.0 245.1,881.0 247.5,884.6 C249.9,888.2 253.4,893.4 255.8,896.0 C258.2,898.6 260.0,900.0 262.1,900.2 C264.2,900.4 265.9,899.0 268.3,897.1 C270.7,895.2 273.6,891.1 276.7,888.7 C279.8,886.3 283.3,883.5 287.1,882.5 C290.9,881.5 296.1,881.6 299.6,882.5 C303.1,883.4 304.9,885.5 308.0,887.7 C311.1,890.0 314.9,894.0 318.4,896.0 C321.9,898.0 325.3,899.4 328.8,899.6 C332.3,899.9 335.8,898.8 339.3,897.5 C342.8,896.2 346.2,893.4 349.7,891.9 C353.2,890.4 356.3,889.0 360.1,888.3 C363.9,887.6 368.4,887.5 372.6,887.7 C376.8,888.0 381.3,888.8 385.1,889.8 C388.9,890.8 393.1,893.4 395.6,893.9 C398.1,894.4 397.9,892.5 400.0,892.9 C402.1,893.2 404.8,895.5 408.3,896.0 C411.8,896.5 417.1,896.7 420.9,896.0 C424.7,895.3 427.8,893.2 431.3,891.9 C434.8,890.6 437.5,888.5 441.7,888.3 C445.9,888.0 451.8,890.0 456.3,890.4 C460.8,890.8 465.0,891.2 468.8,890.8 C472.6,890.3 475.7,887.7 479.2,887.7 C482.7,887.7 486.2,888.9 489.7,890.8 C493.2,892.7 496.6,897.4 500.1,899.2 C503.6,901.0 506.3,902.2 510.5,901.7 C514.7,901.2 520.9,899.5 525.1,896.0 C529.3,892.5 532.1,886.3 535.6,880.4 C539.1,874.5 542.9,865.5 546.0,860.6 C549.1,855.7 550.8,854.0 554.3,851.2 C557.8,848.4 563.0,846.2 566.8,843.9 C570.6,841.6 573.8,838.6 577.3,837.6 C580.8,836.6 583.9,836.1 587.7,837.6 C591.5,839.1 596.7,844.9 600.2,846.6 C603.7,848.4 605.1,848.6 608.6,848.1 C612.1,847.6 616.9,845.3 621.1,843.9 C625.3,842.5 629.4,841.1 633.6,839.7 C637.8,838.3 641.9,836.8 646.1,835.6 C650.3,834.4 654.8,832.8 658.6,832.4 C662.4,832.0 665.9,832.6 669.0,833.5 C672.1,834.4 673.9,835.4 677.4,837.6 C680.9,839.8 685.4,846.2 689.9,846.6 C694.4,847.0 700.0,841.0 704.5,839.7 C709.0,838.4 713.5,838.2 717.0,838.7 C720.5,839.2 721.8,840.6 725.3,842.9 C728.8,845.1 733.0,850.1 737.9,852.2 C742.8,854.3 749.0,854.2 754.5,855.4 C760.0,856.5 765.6,858.2 771.2,859.1 C776.8,860.0 784.0,860.5 788.3,860.6 C792.5,860.7 793.9,860.5 796.7,859.5 C799.5,858.5 801.9,857.1 805.0,854.3 C808.1,851.5 812.4,845.8 815.5,842.9 C818.6,840.0 820.7,837.6 823.8,836.6 C826.9,835.6 830.7,836.4 834.2,837.0 C837.7,837.6 841.8,839.8 844.7,840.4 C847.7,841.0 849.5,839.5 851.9,840.8 C854.3,842.1 856.6,844.3 859.2,848.1 C861.8,851.9 865.2,858.0 867.6,863.7 C870.0,869.4 871.7,877.3 873.8,882.5 C875.9,887.7 878.0,891.7 880.1,895.0 C882.2,898.3 882.9,900.5 886.4,902.3 C889.9,904.1 896.1,905.1 901.0,905.8 C905.9,906.5 909.7,906.0 915.6,906.5 C921.5,907.0 931.2,908.3 936.4,908.5 C941.6,908.7 943.0,908.4 946.8,907.9 C950.6,907.4 955.6,906.2 959.4,905.4 C963.2,904.6 966.3,903.5 969.8,903.3 C973.3,903.1 976.7,904.0 980.2,904.4 C983.7,904.8 986.8,905.2 990.6,905.4 C994.4,905.6 998.6,906.5 1003.1,905.8 C1007.6,905.1 1013.2,903.2 1017.7,901.2 C1022.2,899.2 1026.5,895.8 1030.3,893.9 C1034.1,892.0 1037.2,890.7 1040.7,889.8 C1044.2,888.9 1048.0,889.3 1051.1,888.3 C1054.2,887.2 1056.0,886.3 1059.5,883.5 C1063.0,880.7 1067.8,874.3 1072.0,871.6 C1076.2,868.9 1079.6,868.3 1084.5,867.5 C1089.4,866.7 1096.3,867.1 1101.2,866.8 C1106.1,866.5 1108.8,866.7 1113.7,865.8 C1118.6,864.9 1125.5,862.8 1130.4,861.6 C1135.3,860.4 1138.0,859.0 1142.9,858.5 C1147.8,858.0 1155.1,858.4 1160.0,858.5 C1164.9,858.6 1168.3,858.9 1172.5,859.1 C1176.7,859.4 1180.8,860.5 1185.0,860.0 C1189.2,859.5 1193.3,858.2 1197.5,856.4 C1201.7,854.6 1206.3,850.6 1210.1,849.1 C1213.9,847.6 1217.0,847.6 1220.5,847.4 C1224.0,847.2 1227.1,847.8 1230.9,848.1 C1234.7,848.5 1239.6,849.5 1243.4,849.5 C1247.2,849.5 1250.3,849.0 1253.8,848.1 C1257.3,847.2 1260.8,845.0 1264.3,843.9 C1267.8,842.8 1271.2,841.1 1274.7,841.2 C1278.2,841.3 1281.6,842.7 1285.1,844.5 C1288.6,846.3 1292.1,849.0 1295.6,852.2 C1299.1,855.4 1302.5,860.4 1306.0,863.7 C1309.5,867.0 1313.3,870.3 1316.4,872.1 C1319.5,873.9 1321.3,874.9 1324.8,874.6 C1328.3,874.3 1333.5,872.3 1337.3,870.4 C1341.1,868.5 1344.2,866.1 1347.7,863.3 C1351.2,860.5 1354.6,855.2 1358.1,853.7 C1361.6,852.2 1364.8,854.2 1368.6,854.3 C1372.4,854.4 1377.3,853.8 1381.1,854.3 C1384.9,854.8 1388.0,854.9 1391.5,857.0 C1395.0,859.1 1398.1,863.5 1401.9,866.8 C1405.7,870.1 1410.9,875.7 1414.4,876.6 C1417.9,877.5 1419.7,874.8 1422.8,872.1 C1425.9,869.4 1430.1,863.9 1433.2,860.6 C1436.3,857.3 1438.4,854.1 1441.5,852.2 C1444.6,850.3 1447.5,849.8 1452.0,849.1 C1456.5,848.4 1464.6,848.7 1468.7,848.1 C1472.8,847.5 1474.3,846.1 1476.7,845.4 C1479.1,844.7 1480.7,844.9 1482.9,843.9 C1485.2,842.9 1487.1,840.7 1490.2,839.1 C1493.3,837.5 1497.7,835.5 1501.7,834.5 C1505.7,833.5 1510.4,833.3 1514.2,832.8 C1518.0,832.3 1521.9,831.5 1524.7,831.4 C1527.5,831.3 1528.5,832.2 1530.9,832.4 C1533.3,832.6 1536.8,831.7 1539.2,832.4 C1541.6,833.1 1543.2,834.7 1545.5,836.6 C1547.8,838.5 1550.4,841.4 1552.8,843.9 C1555.2,846.4 1557.8,850.5 1560.1,851.6 C1562.4,852.8 1564.1,852.1 1566.4,850.8 C1568.7,849.5 1571.3,846.4 1573.7,843.9 C1576.1,841.4 1578.4,837.7 1581.0,835.6 C1583.6,833.5 1586.5,832.1 1589.3,831.4 C1592.1,830.7 1594.8,830.7 1597.6,831.4 C1600.4,832.1 1603.2,833.5 1606.0,835.6 C1608.8,837.7 1611.7,841.0 1614.3,843.9 C1616.9,846.8 1619.2,851.0 1621.6,853.3 C1624.0,855.6 1625.9,856.6 1628.9,857.9 C1631.9,859.2 1635.9,860.0 1639.4,861.2 C1642.9,862.5 1648.1,864.7 1649.8,865.4" fill="none" stroke="#cfcc12" stroke-width="1.6"/>
<rect x="23" y="832" width="259" height="18" fill="#262626" fill-opacity="0.8"/>
<text x="23.3" y="847" fill="#1eaad6" stroke="#1eaad6" stroke-width="0.2" font-size="15" textLength="237.7" lengthAdjust="spacingAndGlyphs">スローストキャスティクス (25, 3, 3)</text>
<line x1="1843.5" y1="823" x2="1843.5" y2="917.5" stroke="#8a8a8a" stroke-width="1.2"/><line x1="1831.5" y1="828.8" x2="1843.5" y2="828.8" stroke="#8a8a8a" stroke-width="1.2"/><line x1="1837" y1="836.9" x2="1843.5" y2="836.9" stroke="#8a8a8a" stroke-width="1.2"/><line x1="1837" y1="845.1" x2="1843.5" y2="845.1" stroke="#8a8a8a" stroke-width="1.2"/><line x1="1837" y1="853.2" x2="1843.5" y2="853.2" stroke="#8a8a8a" stroke-width="1.2"/><line x1="1837" y1="861.4" x2="1843.5" y2="861.4" stroke="#8a8a8a" stroke-width="1.2"/><line x1="1831.5" y1="869.5" x2="1843.5" y2="869.5" stroke="#8a8a8a" stroke-width="1.2"/><line x1="1837" y1="877.6" x2="1843.5" y2="877.6" stroke="#8a8a8a" stroke-width="1.2"/><line x1="1837" y1="885.8" x2="1843.5" y2="885.8" stroke="#8a8a8a" stroke-width="1.2"/><line x1="1837" y1="893.9" x2="1843.5" y2="893.9" stroke="#8a8a8a" stroke-width="1.2"/><line x1="1837" y1="902.1" x2="1843.5" y2="902.1" stroke="#8a8a8a" stroke-width="1.2"/><line x1="1831.5" y1="910.2" x2="1843.5" y2="910.2" stroke="#8a8a8a" stroke-width="1.2"/><line x1="1837" y1="917.5" x2="1843.5" y2="917.5" stroke="#8a8a8a" stroke-width="1.2"/>
<text x="1861.8" y="833.7" fill="#e0e0e0" stroke="#e0e0e0" stroke-width="0.35" font-size="16.5" textLength="44.8" lengthAdjust="spacingAndGlyphs">100.00</text>
<text x="1868.9" y="874.4" fill="#e0e0e0" stroke="#e0e0e0" stroke-width="0.35" font-size="16.5" textLength="37.7" lengthAdjust="spacingAndGlyphs">50.00</text>
<text x="1877.8" y="915.1" fill="#e0e0e0" stroke="#e0e0e0" stroke-width="0.35" font-size="16.5" textLength="28.8" lengthAdjust="spacingAndGlyphs">0.00</text>
<rect x="16" y="917.5" width="1815" height="1" fill="#333"/>
<line x1="16" y1="930" x2="1830" y2="930" stroke="#8a8a8a" stroke-width="1.4"/><line x1="26.1" y1="924" x2="26.1" y2="930" stroke="#8a8a8a" stroke-width="1.2"/><line x1="60.8" y1="924" x2="60.8" y2="930" stroke="#8a8a8a" stroke-width="1.2"/><line x1="95.5" y1="918.5" x2="95.5" y2="930" stroke="#8a8a8a" stroke-width="1.2"/><line x1="130.2" y1="924" x2="130.2" y2="930" stroke="#8a8a8a" stroke-width="1.2"/><line x1="164.9" y1="924" x2="164.9" y2="930" stroke="#8a8a8a" stroke-width="1.2"/><line x1="199.6" y1="924" x2="199.6" y2="930" stroke="#8a8a8a" stroke-width="1.2"/><line x1="234.3" y1="924" x2="234.3" y2="930" stroke="#8a8a8a" stroke-width="1.2"/><line x1="269.1" y1="918.5" x2="269.1" y2="930" stroke="#8a8a8a" stroke-width="1.2"/><line x1="303.8" y1="924" x2="303.8" y2="930" stroke="#8a8a8a" stroke-width="1.2"/><line x1="338.5" y1="924" x2="338.5" y2="930" stroke="#8a8a8a" stroke-width="1.2"/><line x1="373.2" y1="924" x2="373.2" y2="930" stroke="#8a8a8a" stroke-width="1.2"/><line x1="407.9" y1="924" x2="407.9" y2="930" stroke="#8a8a8a" stroke-width="1.2"/><line x1="442.6" y1="918.5" x2="442.6" y2="930" stroke="#8a8a8a" stroke-width="1.2"/><line x1="477.3" y1="924" x2="477.3" y2="930" stroke="#8a8a8a" stroke-width="1.2"/><line x1="512.0" y1="924" x2="512.0" y2="930" stroke="#8a8a8a" stroke-width="1.2"/><line x1="546.7" y1="924" x2="546.7" y2="930" stroke="#8a8a8a" stroke-width="1.2"/><line x1="581.4" y1="924" x2="581.4" y2="930" stroke="#8a8a8a" stroke-width="1.2"/><line x1="616.1" y1="918.5" x2="616.1" y2="930" stroke="#8a8a8a" stroke-width="1.2"/><line x1="650.9" y1="924" x2="650.9" y2="930" stroke="#8a8a8a" stroke-width="1.2"/><line x1="685.6" y1="924" x2="685.6" y2="930" stroke="#8a8a8a" stroke-width="1.2"/><line x1="720.3" y1="924" x2="720.3" y2="930" stroke="#8a8a8a" stroke-width="1.2"/><line x1="755.0" y1="924" x2="755.0" y2="930" stroke="#8a8a8a" stroke-width="1.2"/><line x1="789.7" y1="918.5" x2="789.7" y2="930" stroke="#8a8a8a" stroke-width="1.2"/><line x1="824.4" y1="924" x2="824.4" y2="930" stroke="#8a8a8a" stroke-width="1.2"/><line x1="859.1" y1="924" x2="859.1" y2="930" stroke="#8a8a8a" stroke-width="1.2"/><line x1="893.8" y1="924" x2="893.8" y2="930" stroke="#8a8a8a" stroke-width="1.2"/><line x1="928.5" y1="924" x2="928.5" y2="930" stroke="#8a8a8a" stroke-width="1.2"/><line x1="963.2" y1="918.5" x2="963.2" y2="930" stroke="#8a8a8a" stroke-width="1.2"/><line x1="998.0" y1="924" x2="998.0" y2="930" stroke="#8a8a8a" stroke-width="1.2"/><line x1="1032.7" y1="924" x2="1032.7" y2="930" stroke="#8a8a8a" stroke-width="1.2"/><line x1="1067.4" y1="924" x2="1067.4" y2="930" stroke="#8a8a8a" stroke-width="1.2"/><line x1="1102.1" y1="924" x2="1102.1" y2="930" stroke="#8a8a8a" stroke-width="1.2"/><line x1="1136.8" y1="918.5" x2="1136.8" y2="930" stroke="#8a8a8a" stroke-width="1.2"/><line x1="1171.5" y1="924" x2="1171.5" y2="930" stroke="#8a8a8a" stroke-width="1.2"/><line x1="1206.2" y1="924" x2="1206.2" y2="930" stroke="#8a8a8a" stroke-width="1.2"/><line x1="1240.9" y1="924" x2="1240.9" y2="930" stroke="#8a8a8a" stroke-width="1.2"/><line x1="1275.6" y1="924" x2="1275.6" y2="930" stroke="#8a8a8a" stroke-width="1.2"/><line x1="1310.4" y1="918.5" x2="1310.4" y2="930" stroke="#8a8a8a" stroke-width="1.2"/><line x1="1345.1" y1="924" x2="1345.1" y2="930" stroke="#8a8a8a" stroke-width="1.2"/><line x1="1379.8" y1="924" x2="1379.8" y2="930" stroke="#8a8a8a" stroke-width="1.2"/><line x1="1414.5" y1="924" x2="1414.5" y2="930" stroke="#8a8a8a" stroke-width="1.2"/><line x1="1449.2" y1="924" x2="1449.2" y2="930" stroke="#8a8a8a" stroke-width="1.2"/><line x1="1483.9" y1="918.5" x2="1483.9" y2="930" stroke="#8a8a8a" stroke-width="1.2"/><line x1="1518.6" y1="924" x2="1518.6" y2="930" stroke="#8a8a8a" stroke-width="1.2"/><line x1="1553.3" y1="924" x2="1553.3" y2="930" stroke="#8a8a8a" stroke-width="1.2"/><line x1="1588.0" y1="924" x2="1588.0" y2="930" stroke="#8a8a8a" stroke-width="1.2"/><line x1="1622.7" y1="924" x2="1622.7" y2="930" stroke="#8a8a8a" stroke-width="1.2"/><line x1="1657.5" y1="918.5" x2="1657.5" y2="930" stroke="#8a8a8a" stroke-width="1.2"/><line x1="1692.2" y1="924" x2="1692.2" y2="930" stroke="#8a8a8a" stroke-width="1.2"/><line x1="1726.9" y1="924" x2="1726.9" y2="930" stroke="#8a8a8a" stroke-width="1.2"/><line x1="1761.6" y1="924" x2="1761.6" y2="930" stroke="#8a8a8a" stroke-width="1.2"/><line x1="1796.3" y1="924" x2="1796.3" y2="930" stroke="#8a8a8a" stroke-width="1.2"/><line x1="1831.0" y1="918.5" x2="1831.0" y2="930" stroke="#8a8a8a" stroke-width="1.2"/><line x1="1829.6" y1="918.5" x2="1829.6" y2="930" stroke="#8a8a8a" stroke-width="1.2"/>
<text x="54.5" y="948.6" fill="#e0e0e0" stroke="#e0e0e0" stroke-width="0.35" font-size="16" textLength="82" lengthAdjust="spacingAndGlyphs">09/26 03:00</text>
<text x="228.1" y="948.6" fill="#e0e0e0" stroke="#e0e0e0" stroke-width="0.35" font-size="16" textLength="82" lengthAdjust="spacingAndGlyphs">09/27 04:00</text>
<text x="401.6" y="948.6" fill="#e0e0e0" stroke="#e0e0e0" stroke-width="0.35" font-size="16" textLength="82" lengthAdjust="spacingAndGlyphs">09/28 05:00</text>
<text x="575.2" y="948.6" fill="#e0e0e0" stroke="#e0e0e0" stroke-width="0.35" font-size="16" textLength="82" lengthAdjust="spacingAndGlyphs">09/29 06:00</text>
<text x="748.7" y="948.6" fill="#e0e0e0" stroke="#e0e0e0" stroke-width="0.35" font-size="16" textLength="82" lengthAdjust="spacingAndGlyphs">10/02 08:00</text>
<text x="922.2" y="948.6" fill="#e0e0e0" stroke="#e0e0e0" stroke-width="0.35" font-size="16" textLength="82" lengthAdjust="spacingAndGlyphs">10/03 09:00</text>
<text x="1095.8" y="948.6" fill="#e0e0e0" stroke="#e0e0e0" stroke-width="0.35" font-size="16" textLength="82" lengthAdjust="spacingAndGlyphs">10/04 10:00</text>
<text x="1269.4" y="948.6" fill="#e0e0e0" stroke="#e0e0e0" stroke-width="0.35" font-size="16" textLength="82" lengthAdjust="spacingAndGlyphs">10/05 11:00</text>
<text x="1442.9" y="948.6" fill="#e0e0e0" stroke="#e0e0e0" stroke-width="0.35" font-size="16" textLength="82" lengthAdjust="spacingAndGlyphs">10/06 12:00</text>
<text x="1616.5" y="948.6" fill="#e0e0e0" stroke="#e0e0e0" stroke-width="0.35" font-size="16" textLength="82" lengthAdjust="spacingAndGlyphs">10/09 14:00</text>
<text x="1790" y="948.6" fill="#e0e0e0" stroke="#e0e0e0" stroke-width="0.35" font-size="16" textLength="39" lengthAdjust="spacingAndGlyphs">10/10</text>
<rect x="0" y="959" width="1918" height="2" fill="#1b2a2f"/>
<rect x="56" y="959" width="360" height="2" fill="#f4f4f4"/>
<rect x="480" y="959" width="56" height="2" fill="#4a5c62"/>
<rect x="1914" y="0" width="1" height="961" fill="#1e1e1e"/>
<rect x="1915" y="0" width="1" height="961" fill="#fafafa"/>
<rect x="1916" y="0" width="1" height="961" fill="#2d6470"/>
<rect x="1917" y="0" width="1" height="961" fill="#eef3f3"/>
</svg>
<div id="title"><svg width="160" height="30" style="left:0;top:0" viewBox="0 0 160 30"><text y="18.6" font-weight="bold" fill="#fff" stroke="#fff" stroke-width="0.45"><tspan x="6.5" font-size="16.5" textLength="58.8" lengthAdjust="spacingAndGlyphs">EUR/JPY</tspan> <tspan x="68.7" font-size="16.5" textLength="5.6" lengthAdjust="spacingAndGlyphs">1</tspan><tspan x="77.6" y="18.2" font-size="14.3" textLength="28.2" lengthAdjust="spacingAndGlyphs">時間</tspan> <tspan x="110.4" y="18.6" font-size="16.5" textLength="23.4" lengthAdjust="spacingAndGlyphs">BID</tspan></text></svg>
<svg width="70" height="20" style="left:1842px;top:6px" viewBox="0 0 70 20">
<text x="6.5" y="14.8" fill="#fff" font-size="15.5" font-weight="bold" text-anchor="middle">?</text>
<rect x="24.3" y="4.75" width="11.6" height="8.5" rx="2" fill="none" stroke="#fff" stroke-width="1.5"/>
<rect x="24.3" y="4.4" width="11.6" height="3.2" rx="1.2" fill="#fff"/>
<path d="M51.6,4.6 L60.4,13.4 M60.4,4.6 L51.6,13.4" stroke="#f2f2f2" stroke-width="1.7"/>
</svg>
</div>
<div id="dd"></div>
</body></html>
